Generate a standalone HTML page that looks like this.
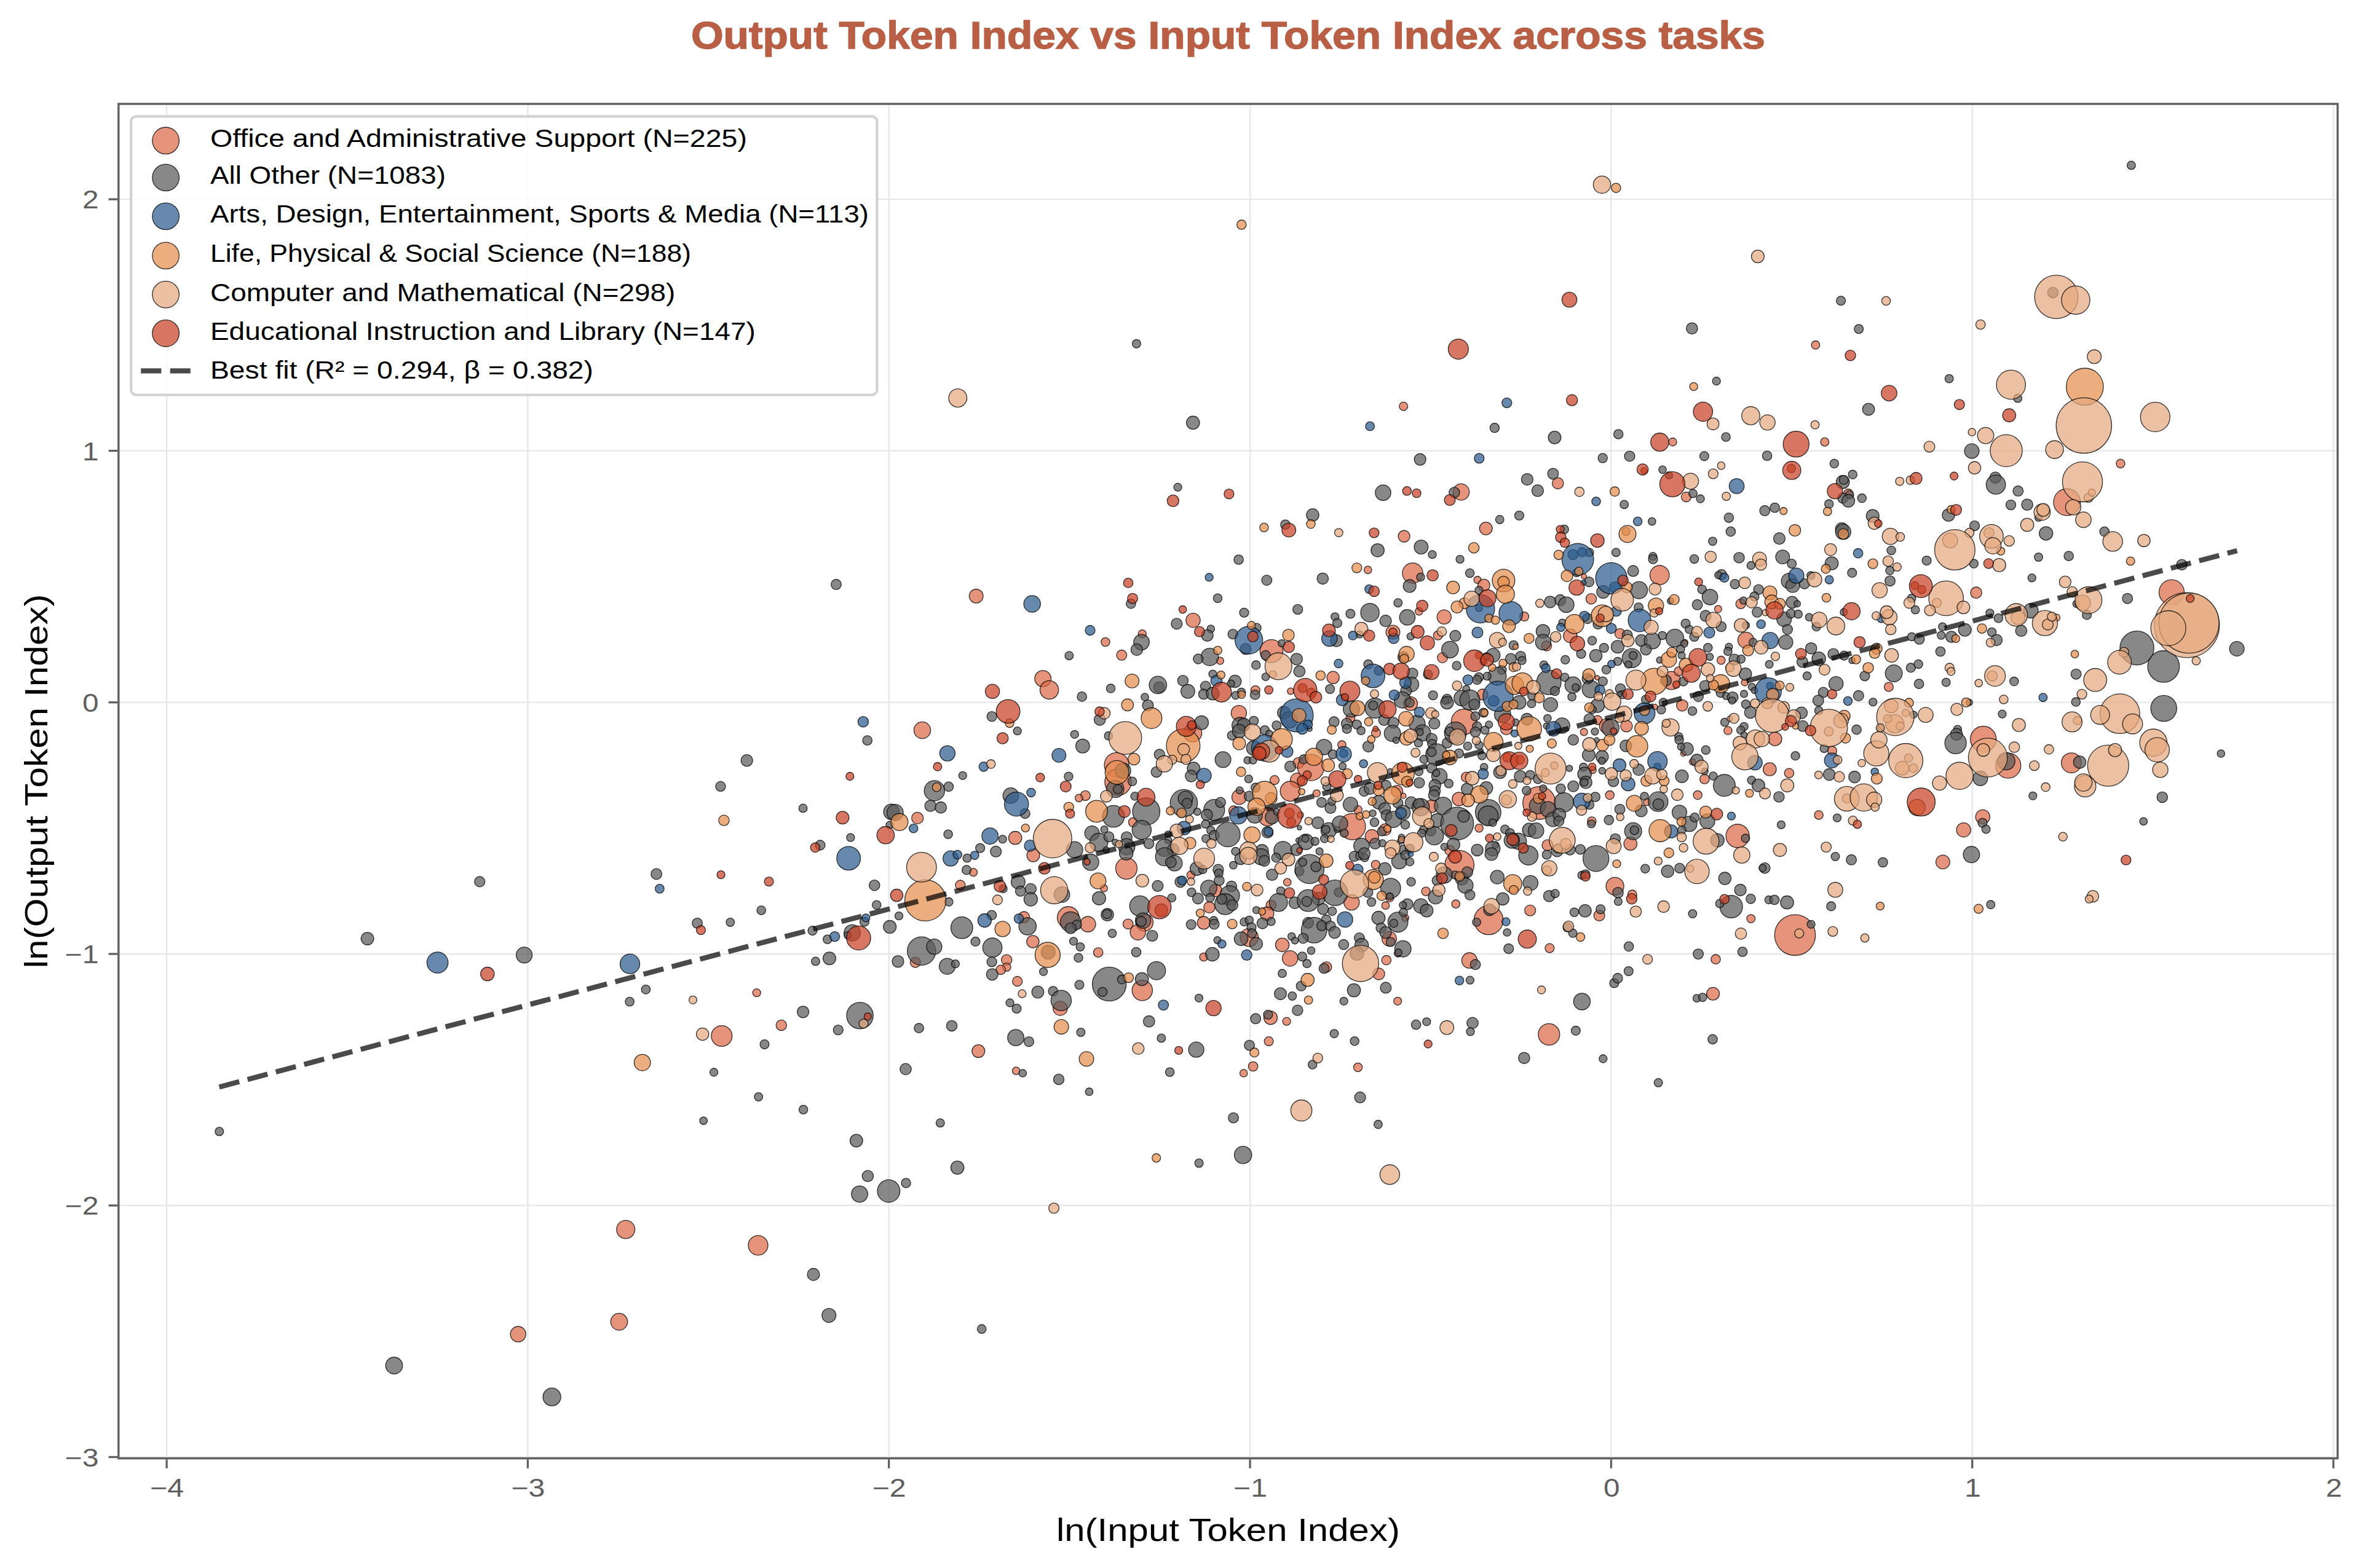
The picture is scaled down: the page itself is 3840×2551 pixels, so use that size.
<!DOCTYPE html>
<html><head><meta charset="utf-8"><title>Output Token Index vs Input Token Index across tasks</title>
<style>html,body{margin:0;padding:0;background:#fff}svg{display:block}text{font-family:"Liberation Sans",sans-serif}.p circle{stroke:#000;stroke-width:1.3;stroke-opacity:.78;fill-opacity:.72}
.o{fill:#db6a48}
.g{fill:#5a5a5a}
.b{fill:#2c5b8d}
.l{fill:#e58e4d}
.c{fill:#e5a97f}
.e{fill:#c74125}
.tk{font-size:41.7px;fill:#5f5f5f}.lg{font-size:40.5px;fill:#000}.gr line{stroke:#e7e7e7;stroke-width:2.3}.tc line{stroke:#5f5f5f;stroke-width:3.3}</style></head><body>
<svg width="3840" height="2551" viewBox="0 0 3840 2551">
<rect width="3840" height="2551" fill="#fff"/>
<g class="gr">
<line x1="271.1" y1="169.0" x2="271.1" y2="2372.6"/>
<line x1="858.4" y1="169.0" x2="858.4" y2="2372.6"/>
<line x1="1445.7" y1="169.0" x2="1445.7" y2="2372.6"/>
<line x1="2033.1" y1="169.0" x2="2033.1" y2="2372.6"/>
<line x1="2620.4" y1="169.0" x2="2620.4" y2="2372.6"/>
<line x1="3207.7" y1="169.0" x2="3207.7" y2="2372.6"/>
<line x1="3795.1" y1="169.0" x2="3795.1" y2="2372.6"/>
<line x1="192.8" y1="2370.5" x2="3802.0" y2="2370.5"/>
<line x1="192.8" y1="1961.2" x2="3802.0" y2="1961.2"/>
<line x1="192.8" y1="1552.0" x2="3802.0" y2="1552.0"/>
<line x1="192.8" y1="1142.7" x2="3802.0" y2="1142.7"/>
<line x1="192.8" y1="733.4" x2="3802.0" y2="733.4"/>
<line x1="192.8" y1="324.2" x2="3802.0" y2="324.2"/>
</g>
<g class="p">
<circle class="o" cx="842.7" cy="2170.6" r="12.6"/>
<circle class="o" cx="1017.7" cy="2000.2" r="14.9"/>
<circle class="o" cx="1007.0" cy="2150.4" r="13.7"/>
<circle class="o" cx="1233.0" cy="2026.1" r="16.0"/>
<circle class="o" cx="1230.7" cy="1615.2" r="6.5"/>
<circle class="o" cx="1270.8" cy="1668.0" r="8.6"/>
<circle class="o" cx="1173.8" cy="1685.5" r="16.9"/>
<circle class="o" cx="1591.3" cy="1710.1" r="10.4"/>
<circle class="o" cx="1652.6" cy="1742.1" r="6.2"/>
<circle class="o" cx="1654.7" cy="1596.5" r="8.0"/>
<circle class="o" cx="1724.4" cy="1640.4" r="11.6"/>
<circle class="o" cx="1857.8" cy="1611.3" r="16.6"/>
<circle class="o" cx="2063.6" cy="1694.1" r="7.4"/>
<circle class="o" cx="2038.1" cy="1735.0" r="7.7"/>
<circle class="o" cx="2022.7" cy="1746.0" r="6.2"/>
<circle class="o" cx="2066.5" cy="1655.8" r="11.0"/>
<circle class="o" cx="2092.6" cy="1661.7" r="6.5"/>
<circle class="o" cx="2273.2" cy="1628.8" r="6.5"/>
<circle class="o" cx="2208.6" cy="1736.5" r="7.1"/>
<circle class="o" cx="2786.1" cy="1616.7" r="10.4"/>
<circle class="o" cx="2519.3" cy="1682.8" r="17.5"/>
<circle class="o" cx="1500.0" cy="1188.0" r="13.6"/>
<circle class="o" cx="1492.2" cy="1330.9" r="9.5"/>
<circle class="o" cx="1561.9" cy="1440.0" r="8.0"/>
<circle class="o" cx="1583.0" cy="1419.2" r="6.5"/>
<circle class="o" cx="1651.2" cy="1363.2" r="10.7"/>
<circle class="o" cx="1765.3" cy="1294.4" r="8.0"/>
<circle class="o" cx="1754.9" cy="1298.3" r="6.2"/>
<circle class="o" cx="1680.5" cy="1391.6" r="10.4"/>
<circle class="o" cx="1665.4" cy="1492.2" r="9.2"/>
<circle class="o" cx="1737.4" cy="1492.8" r="17.8"/>
<circle class="o" cx="1679.9" cy="1531.9" r="10.1"/>
<circle class="o" cx="1488.7" cy="1565.7" r="8.3"/>
<circle class="o" cx="1637.2" cy="1561.8" r="8.6"/>
<circle class="o" cx="1637.2" cy="1573.4" r="6.8"/>
<circle class="o" cx="1627.7" cy="1577.8" r="7.7"/>
<circle class="o" cx="1587.7" cy="969.8" r="11.3"/>
<circle class="o" cx="1696.2" cy="1104.1" r="13.3"/>
<circle class="o" cx="1706.6" cy="1122.4" r="15.1"/>
<circle class="o" cx="1797.9" cy="1044.5" r="7.1"/>
<circle class="o" cx="1857.8" cy="1031.1" r="6.5"/>
<circle class="o" cx="1824.3" cy="1065.8" r="8.3"/>
<circle class="o" cx="1940.5" cy="1009.2" r="11.6"/>
<circle class="o" cx="1984.4" cy="1075.0" r="5.9"/>
<circle class="o" cx="2014.9" cy="1160.1" r="12.5"/>
<circle class="o" cx="2068.0" cy="1059.3" r="18.7"/>
<circle class="o" cx="2041.9" cy="1123.0" r="7.4"/>
<circle class="o" cx="2099.1" cy="1124.5" r="5.3"/>
<circle class="o" cx="2224.8" cy="927.1" r="6.2"/>
<circle class="o" cx="2265.5" cy="1028.5" r="11.3"/>
<circle class="o" cx="2168.2" cy="1102.3" r="10.1"/>
<circle class="o" cx="2196.4" cy="1168.4" r="7.4"/>
<circle class="o" cx="2376.4" cy="800.5" r="13.3"/>
<circle class="o" cx="2283.6" cy="872.5" r="9.5"/>
<circle class="o" cx="2297.5" cy="932.4" r="16.6"/>
<circle class="o" cx="2307.9" cy="994.7" r="6.2"/>
<circle class="o" cx="2348.8" cy="1003.8" r="11.6"/>
<circle class="o" cx="2338.7" cy="1033.8" r="7.4"/>
<circle class="o" cx="2346.1" cy="1070.0" r="8.3"/>
<circle class="o" cx="2294.2" cy="1144.7" r="11.3"/>
<circle class="o" cx="2381.1" cy="1174.3" r="20.8"/>
<circle class="o" cx="2416.7" cy="859.8" r="10.4"/>
<circle class="o" cx="2403.0" cy="943.4" r="5.9"/>
<circle class="o" cx="2413.4" cy="952.0" r="9.8"/>
<circle class="o" cx="2411.3" cy="1129.9" r="8.9"/>
<circle class="o" cx="2282.7" cy="661.0" r="6.9"/>
<circle class="o" cx="2952.9" cy="561.3" r="6.8"/>
<circle class="o" cx="2720.6" cy="719.0" r="6.5"/>
<circle class="o" cx="2967.8" cy="719.0" r="6.8"/>
<circle class="o" cx="2742.5" cy="808.5" r="8.0"/>
<circle class="o" cx="3006.1" cy="802.9" r="7.4"/>
<circle class="o" cx="2533.8" cy="786.3" r="9.2"/>
<circle class="o" cx="2699.2" cy="935.7" r="15.7"/>
<circle class="o" cx="2576.2" cy="937.8" r="4.4"/>
<circle class="o" cx="2588.0" cy="974.3" r="8.6"/>
<circle class="o" cx="2831.2" cy="982.3" r="8.0"/>
<circle class="o" cx="3448.9" cy="754.3" r="7.1"/>
<circle class="o" cx="3361.8" cy="816.9" r="21.9"/>
<circle class="o" cx="3532.0" cy="963.6" r="20.5"/>
<circle class="o" cx="3214.1" cy="964.2" r="9.2"/>
<circle class="o" cx="3368.9" cy="1241.1" r="16.3"/>
<circle class="o" cx="3225.7" cy="1202.6" r="21.1"/>
<circle class="o" cx="3266.3" cy="1245.6" r="20.5"/>
<circle class="o" cx="3224.8" cy="1328.9" r="11.6"/>
<circle class="o" cx="3193.7" cy="1350.2" r="11.6"/>
<circle class="o" cx="3159.9" cy="1402.4" r="11.3"/>
<circle class="o" cx="2503.5" cy="1306.3" r="26.7"/>
<circle class="o" cx="2618.3" cy="1293.6" r="7.1"/>
<circle class="o" cx="2678.5" cy="1304.8" r="5.9"/>
<circle class="o" cx="2761.2" cy="1293.6" r="7.1"/>
<circle class="o" cx="2588.9" cy="1336.0" r="7.1"/>
<circle class="o" cx="2516.9" cy="1375.1" r="8.9"/>
<circle class="o" cx="2651.8" cy="1372.7" r="10.7"/>
<circle class="o" cx="2826.1" cy="1360.0" r="19.0"/>
<circle class="o" cx="2958.1" cy="1325.9" r="7.1"/>
<circle class="o" cx="2626.6" cy="1441.8" r="14.5"/>
<circle class="o" cx="2654.8" cy="1455.4" r="7.4"/>
<circle class="o" cx="2488.7" cy="1481.2" r="8.9"/>
<circle class="o" cx="2601.1" cy="1489.5" r="8.9"/>
<circle class="o" cx="2847.8" cy="1494.6" r="6.8"/>
<circle class="o" cx="2919.5" cy="1521.3" r="33.2"/>
<circle class="o" cx="2520.4" cy="1542.6" r="7.4"/>
<circle class="o" cx="2790.5" cy="1560.7" r="7.7"/>
<circle class="o" cx="1816.1" cy="1244.3" r="20.0"/>
<circle class="o" cx="1818.4" cy="1272.5" r="21.5"/>
<circle class="o" cx="1842.8" cy="1337.7" r="7.4"/>
<circle class="o" cx="1939.9" cy="1192.4" r="14.8"/>
<circle class="o" cx="2111.9" cy="1241.3" r="8.9"/>
<circle class="o" cx="2073.0" cy="1269.1" r="7.4"/>
<circle class="o" cx="2110.4" cy="1269.5" r="11.9"/>
<circle class="o" cx="2015.5" cy="1296.9" r="11.9"/>
<circle class="o" cx="2098.5" cy="1287.3" r="16.3"/>
<circle class="o" cx="2061.5" cy="1328.8" r="14.8"/>
<circle class="o" cx="2006.6" cy="1319.2" r="8.2"/>
<circle class="o" cx="2182.5" cy="1211.7" r="6.7"/>
<circle class="o" cx="2132.0" cy="1248.7" r="21.5"/>
<circle class="o" cx="2141.4" cy="1290.7" r="5.9"/>
<circle class="o" cx="2115.0" cy="1325.8" r="5.2"/>
<circle class="o" cx="2199.5" cy="1344.8" r="21.5"/>
<circle class="o" cx="2238.0" cy="1192.4" r="7.4"/>
<circle class="o" cx="2272.1" cy="1287.3" r="9.6"/>
<circle class="o" cx="2282.5" cy="1294.7" r="4.4"/>
<circle class="o" cx="2208.7" cy="1317.4" r="6.7"/>
<circle class="o" cx="2252.9" cy="1349.8" r="9.6"/>
<circle class="o" cx="2231.4" cy="1360.7" r="11.1"/>
<circle class="o" cx="2328.5" cy="1311.7" r="10.4"/>
<circle class="o" cx="2358.1" cy="1383.6" r="8.2"/>
<circle class="o" cx="2384.8" cy="1264.3" r="8.2"/>
<circle class="o" cx="2372.9" cy="1299.9" r="11.1"/>
<circle class="o" cx="2405.6" cy="1347.3" r="6.7"/>
<circle class="o" cx="2450.0" cy="1185.7" r="9.6"/>
<circle class="o" cx="1832.0" cy="1412.8" r="17.5"/>
<circle class="o" cx="1937.0" cy="1423.6" r="6.7"/>
<circle class="o" cx="2093.7" cy="1435.4" r="6.2"/>
<circle class="o" cx="1795.4" cy="1445.1" r="5.9"/>
<circle class="o" cx="1769.4" cy="1503.6" r="12.6"/>
<circle class="o" cx="1834.7" cy="1503.3" r="8.2"/>
<circle class="o" cx="1861.4" cy="1500.7" r="14.1"/>
<circle class="o" cx="1850.7" cy="1516.7" r="12.6"/>
<circle class="o" cx="1977.0" cy="1448.8" r="10.4"/>
<circle class="o" cx="1966.9" cy="1476.2" r="9.2"/>
<circle class="o" cx="1957.7" cy="1501.4" r="10.4"/>
<circle class="o" cx="2067.4" cy="1472.5" r="8.2"/>
<circle class="o" cx="2060.7" cy="1486.6" r="11.1"/>
<circle class="o" cx="2031.8" cy="1525.1" r="14.8"/>
<circle class="o" cx="2085.6" cy="1537.3" r="11.1"/>
<circle class="o" cx="1786.2" cy="1549.6" r="7.7"/>
<circle class="o" cx="1957.7" cy="1557.0" r="6.7"/>
<circle class="o" cx="2098.2" cy="1559.2" r="12.6"/>
<circle class="o" cx="2237.4" cy="1406.8" r="7.1"/>
<circle class="o" cx="2198.3" cy="1468.1" r="12.6"/>
<circle class="o" cx="2260.3" cy="1460.6" r="6.7"/>
<circle class="o" cx="2253.5" cy="1473.2" r="6.2"/>
<circle class="o" cx="2285.5" cy="1493.3" r="5.9"/>
<circle class="o" cx="2259.5" cy="1527.3" r="11.9"/>
<circle class="o" cx="2273.6" cy="1551.1" r="5.9"/>
<circle class="o" cx="2157.2" cy="1573.3" r="8.6"/>
<circle class="o" cx="2254.8" cy="1562.2" r="7.7"/>
<circle class="o" cx="2373.7" cy="1407.3" r="23.7"/>
<circle class="o" cx="2319.1" cy="1450.3" r="7.1"/>
<circle class="o" cx="2367.8" cy="1470.7" r="6.7"/>
<circle class="o" cx="2421.1" cy="1497.0" r="23.7"/>
<circle class="o" cx="2390.0" cy="1562.6" r="12.6"/>
<circle class="o" cx="2242.5" cy="1584.4" r="9.6"/>
<circle class="o" cx="2479.1" cy="1003.0" r="7.4"/>
<circle class="o" cx="2515.4" cy="1050.8" r="8.2"/>
<circle class="o" cx="2553.9" cy="1034.5" r="11.1"/>
<circle class="o" cx="2597.7" cy="1102.7" r="3.7"/>
<circle class="o" cx="2598.4" cy="1171.6" r="7.4"/>
<circle class="o" cx="2576.2" cy="1190.9" r="5.9"/>
<circle class="o" cx="2613.2" cy="1181.2" r="11.9"/>
<circle class="o" cx="2645.4" cy="1181.2" r="9.6"/>
<circle class="o" cx="2634.7" cy="1030.8" r="8.2"/>
<circle class="o" cx="2740.7" cy="1044.8" r="4.4"/>
<circle class="o" cx="2718.5" cy="1107.1" r="14.8"/>
<circle class="o" cx="2730.4" cy="1092.3" r="7.4"/>
<circle class="o" cx="2799.3" cy="1074.2" r="6.7"/>
<circle class="o" cx="2736.0" cy="1147.6" r="9.3"/>
<circle class="o" cx="2691.8" cy="1150.1" r="4.4"/>
<circle class="o" cx="2810.4" cy="1188.6" r="6.7"/>
<circle class="o" cx="2794.4" cy="990.7" r="5.9"/>
<circle class="o" cx="2839.5" cy="1041.4" r="13.0"/>
<circle class="o" cx="3071.9" cy="1117.5" r="7.4"/>
<circle class="o" cx="2837.7" cy="1110.4" r="5.6"/>
<circle class="o" cx="2590.3" cy="1252.6" r="5.9"/>
<circle class="o" cx="2737.8" cy="1226.0" r="4.4"/>
<circle class="o" cx="2752.6" cy="1239.3" r="5.2"/>
<circle class="o" cx="2772.3" cy="1267.5" r="7.7"/>
<circle class="o" cx="2886.9" cy="1202.2" r="11.1"/>
<circle class="o" cx="2878.3" cy="1251.5" r="10.7"/>
<circle class="o" cx="2909.9" cy="1257.8" r="7.7"/>
<circle class="o" cx="2980.0" cy="1221.5" r="7.4"/>
<circle class="g" cx="1804.2" cy="1601.0" r="27.6"/>
<circle class="g" cx="1885.1" cy="1118.0" r="8.9"/>
<circle class="g" cx="2177.3" cy="1451.7" r="7.4"/>
<circle class="g" cx="641.0" cy="2221.7" r="13.7"/>
<circle class="g" cx="897.6" cy="2272.7" r="14.5"/>
<circle class="g" cx="1392.8" cy="1855.7" r="10.3"/>
<circle class="g" cx="1411.4" cy="1913.3" r="9.1"/>
<circle class="g" cx="1398.1" cy="1942.6" r="13.3"/>
<circle class="g" cx="1445.4" cy="1937.7" r="18.3"/>
<circle class="g" cx="1473.6" cy="1924.7" r="7.6"/>
<circle class="g" cx="1557.1" cy="1899.6" r="10.7"/>
<circle class="g" cx="1950.1" cy="1892.3" r="6.9"/>
<circle class="g" cx="1323.0" cy="2073.4" r="9.9"/>
<circle class="g" cx="1348.2" cy="2140.1" r="11.4"/>
<circle class="g" cx="1596.7" cy="2162.2" r="7.2"/>
<circle class="g" cx="2021.7" cy="1879.0" r="14.1"/>
<circle class="g" cx="780.2" cy="1434.4" r="8.4"/>
<circle class="g" cx="1067.6" cy="1421.9" r="8.8"/>
<circle class="g" cx="597.6" cy="1527.1" r="10.3"/>
<circle class="g" cx="852.6" cy="1553.8" r="13.0"/>
<circle class="g" cx="1050.4" cy="1609.8" r="7.2"/>
<circle class="g" cx="1024.1" cy="1629.6" r="7.2"/>
<circle class="g" cx="356.7" cy="1840.8" r="6.9"/>
<circle class="g" cx="1306.1" cy="1646.3" r="9.5"/>
<circle class="g" cx="1398.6" cy="1652.3" r="21.6"/>
<circle class="g" cx="1363.3" cy="1675.7" r="8.0"/>
<circle class="g" cx="1243.5" cy="1699.1" r="7.4"/>
<circle class="g" cx="1161.1" cy="1744.5" r="6.5"/>
<circle class="g" cx="1233.7" cy="1784.5" r="6.8"/>
<circle class="g" cx="1306.6" cy="1805.2" r="7.1"/>
<circle class="g" cx="1144.2" cy="1823.3" r="6.2"/>
<circle class="g" cx="1494.6" cy="1672.7" r="7.7"/>
<circle class="g" cx="1548.0" cy="1668.9" r="8.6"/>
<circle class="g" cx="1473.0" cy="1739.4" r="9.2"/>
<circle class="g" cx="1529.3" cy="1826.9" r="6.8"/>
<circle class="g" cx="1652.1" cy="1688.1" r="13.3"/>
<circle class="g" cx="1673.4" cy="1694.7" r="8.0"/>
<circle class="g" cx="1663.3" cy="1746.0" r="6.2"/>
<circle class="g" cx="1722.0" cy="1756.0" r="8.6"/>
<circle class="g" cx="1771.5" cy="1776.2" r="6.2"/>
<circle class="g" cx="1757.9" cy="1679.5" r="6.8"/>
<circle class="g" cx="1687.9" cy="1614.0" r="9.8"/>
<circle class="g" cx="1712.8" cy="1612.5" r="7.7"/>
<circle class="g" cx="1725.9" cy="1627.7" r="16.6"/>
<circle class="g" cx="1642.6" cy="1631.5" r="6.5"/>
<circle class="g" cx="1653.5" cy="1641.0" r="7.4"/>
<circle class="g" cx="1755.5" cy="1602.2" r="7.4"/>
<circle class="g" cx="1793.2" cy="1613.7" r="7.4"/>
<circle class="g" cx="1824.6" cy="1593.6" r="7.1"/>
<circle class="g" cx="1857.2" cy="1593.0" r="10.7"/>
<circle class="g" cx="1950.0" cy="1623.8" r="6.5"/>
<circle class="g" cx="1868.8" cy="1661.7" r="9.2"/>
<circle class="g" cx="1888.9" cy="1689.0" r="6.8"/>
<circle class="g" cx="1945.6" cy="1707.7" r="12.5"/>
<circle class="g" cx="1902.6" cy="1744.2" r="7.1"/>
<circle class="g" cx="2032.1" cy="1700.6" r="8.3"/>
<circle class="g" cx="2042.2" cy="1657.3" r="8.3"/>
<circle class="g" cx="2062.4" cy="1650.8" r="7.4"/>
<circle class="g" cx="2110.4" cy="1643.7" r="8.6"/>
<circle class="g" cx="2082.5" cy="1616.7" r="9.8"/>
<circle class="g" cx="2101.8" cy="1620.5" r="6.8"/>
<circle class="g" cx="2116.3" cy="1604.2" r="8.0"/>
<circle class="g" cx="2185.7" cy="1628.8" r="6.5"/>
<circle class="g" cx="2202.0" cy="1611.1" r="10.7"/>
<circle class="g" cx="2253.9" cy="1606.9" r="8.9"/>
<circle class="g" cx="2390.9" cy="1594.7" r="6.5"/>
<circle class="g" cx="2170.0" cy="1681.6" r="6.8"/>
<circle class="g" cx="2203.2" cy="1693.8" r="7.1"/>
<circle class="g" cx="2134.7" cy="1732.0" r="7.1"/>
<circle class="g" cx="2303.1" cy="1667.1" r="7.7"/>
<circle class="g" cx="2320.3" cy="1662.3" r="6.5"/>
<circle class="g" cx="2395.0" cy="1664.4" r="9.2"/>
<circle class="g" cx="2391.5" cy="1678.4" r="6.5"/>
<circle class="g" cx="2478.9" cy="1721.3" r="9.2"/>
<circle class="g" cx="2212.1" cy="1785.4" r="8.9"/>
<circle class="g" cx="2241.5" cy="1829.3" r="6.8"/>
<circle class="g" cx="2006.1" cy="1818.6" r="8.3"/>
<circle class="g" cx="2572.9" cy="1629.4" r="13.6"/>
<circle class="g" cx="2625.4" cy="1599.5" r="7.4"/>
<circle class="g" cx="2631.0" cy="1591.5" r="8.0"/>
<circle class="g" cx="2759.7" cy="1624.1" r="6.2"/>
<circle class="g" cx="2769.2" cy="1622.6" r="6.8"/>
<circle class="g" cx="2562.9" cy="1676.9" r="7.4"/>
<circle class="g" cx="2785.5" cy="1690.8" r="7.7"/>
<circle class="g" cx="2607.3" cy="1722.5" r="6.5"/>
<circle class="g" cx="2697.2" cy="1761.4" r="6.8"/>
<circle class="g" cx="1214.7" cy="1237.2" r="9.5"/>
<circle class="g" cx="1172.0" cy="1279.3" r="8.0"/>
<circle class="g" cx="1306.1" cy="1314.9" r="6.8"/>
<circle class="g" cx="1410.7" cy="1204.6" r="7.7"/>
<circle class="g" cx="1383.4" cy="1362.6" r="6.5"/>
<circle class="g" cx="1333.9" cy="1375.0" r="8.0"/>
<circle class="g" cx="1422.3" cy="1440.3" r="8.6"/>
<circle class="g" cx="1238.2" cy="1480.9" r="7.1"/>
<circle class="g" cx="1134.1" cy="1501.9" r="8.3"/>
<circle class="g" cx="1187.8" cy="1500.5" r="6.8"/>
<circle class="g" cx="1425.8" cy="1472.3" r="7.1"/>
<circle class="g" cx="1406.0" cy="1499.6" r="7.4"/>
<circle class="g" cx="1321.5" cy="1514.1" r="7.4"/>
<circle class="g" cx="1345.8" cy="1528.3" r="7.1"/>
<circle class="g" cx="1386.1" cy="1517.7" r="13.3"/>
<circle class="g" cx="1378.7" cy="1521.5" r="5.9"/>
<circle class="g" cx="1326.5" cy="1563.9" r="6.8"/>
<circle class="g" cx="1349.0" cy="1559.2" r="10.4"/>
<circle class="g" cx="1447.2" cy="1507.9" r="10.4"/>
<circle class="g" cx="1462.0" cy="1490.1" r="6.5"/>
<circle class="g" cx="1460.5" cy="1564.2" r="9.5"/>
<circle class="g" cx="1565.8" cy="1261.8" r="6.5"/>
<circle class="g" cx="1654.7" cy="1189.2" r="6.5"/>
<circle class="g" cx="1519.8" cy="1286.4" r="16.6"/>
<circle class="g" cx="1542.9" cy="1279.9" r="7.7"/>
<circle class="g" cx="1513.3" cy="1311.0" r="9.2"/>
<circle class="g" cx="1530.2" cy="1313.7" r="9.2"/>
<circle class="g" cx="1449.9" cy="1320.8" r="12.7"/>
<circle class="g" cx="1455.8" cy="1322.0" r="13.3"/>
<circle class="g" cx="1446.9" cy="1342.1" r="5.9"/>
<circle class="g" cx="1542.1" cy="1357.3" r="7.1"/>
<circle class="g" cx="1543.2" cy="1467.3" r="6.8"/>
<circle class="g" cx="1572.9" cy="1396.1" r="6.8"/>
<circle class="g" cx="1594.2" cy="1379.8" r="7.4"/>
<circle class="g" cx="1572.0" cy="1415.4" r="7.4"/>
<circle class="g" cx="1630.7" cy="1365.3" r="6.5"/>
<circle class="g" cx="1619.7" cy="1385.4" r="8.9"/>
<circle class="g" cx="1644.0" cy="1294.4" r="12.7"/>
<circle class="g" cx="1667.2" cy="1323.5" r="8.0"/>
<circle class="g" cx="1738.0" cy="1263.3" r="7.1"/>
<circle class="g" cx="1760.9" cy="1213.8" r="11.3"/>
<circle class="g" cx="1747.8" cy="1194.8" r="6.5"/>
<circle class="g" cx="1747.8" cy="1382.5" r="13.3"/>
<circle class="g" cx="1655.9" cy="1434.9" r="11.3"/>
<circle class="g" cx="1631.6" cy="1445.9" r="6.5"/>
<circle class="g" cx="1659.8" cy="1449.8" r="8.3"/>
<circle class="g" cx="1676.4" cy="1446.2" r="8.9"/>
<circle class="g" cx="1676.4" cy="1463.1" r="11.0"/>
<circle class="g" cx="1727.1" cy="1455.4" r="12.7"/>
<circle class="g" cx="1612.9" cy="1488.9" r="7.7"/>
<circle class="g" cx="1564.3" cy="1509.4" r="17.8"/>
<circle class="g" cx="1671.3" cy="1507.0" r="14.2"/>
<circle class="g" cx="1741.3" cy="1499.9" r="16.6"/>
<circle class="g" cx="1751.4" cy="1504.6" r="7.7"/>
<circle class="g" cx="1741.3" cy="1510.2" r="8.9"/>
<circle class="g" cx="1586.5" cy="1531.9" r="7.4"/>
<circle class="g" cx="1614.1" cy="1541.7" r="15.7"/>
<circle class="g" cx="1746.0" cy="1531.3" r="6.5"/>
<circle class="g" cx="1757.0" cy="1540.5" r="6.8"/>
<circle class="g" cx="1704.8" cy="1549.1" r="11.3"/>
<circle class="g" cx="1754.0" cy="1558.3" r="7.1"/>
<circle class="g" cx="1498.8" cy="1547.3" r="23.1"/>
<circle class="g" cx="1519.5" cy="1540.2" r="12.5"/>
<circle class="g" cx="1540.6" cy="1572.2" r="13.0"/>
<circle class="g" cx="1553.9" cy="1568.1" r="6.5"/>
<circle class="g" cx="1613.2" cy="1564.8" r="8.0"/>
<circle class="g" cx="1613.8" cy="1585.3" r="9.5"/>
<circle class="g" cx="1697.1" cy="1580.8" r="6.5"/>
<circle class="g" cx="1360.0" cy="950.8" r="8.3"/>
<circle class="g" cx="1738.9" cy="1066.7" r="6.8"/>
<circle class="g" cx="1759.7" cy="1133.4" r="7.7"/>
<circle class="g" cx="1613.2" cy="1165.7" r="8.0"/>
<circle class="g" cx="1915.6" cy="792.7" r="6.5"/>
<circle class="g" cx="1839.4" cy="982.2" r="7.7"/>
<circle class="g" cx="1856.6" cy="1044.8" r="12.7"/>
<circle class="g" cx="1848.9" cy="1056.9" r="9.5"/>
<circle class="g" cx="1913.8" cy="1014.8" r="8.9"/>
<circle class="g" cx="1806.5" cy="1120.1" r="7.1"/>
<circle class="g" cx="1883.3" cy="1114.4" r="14.2"/>
<circle class="g" cx="1862.0" cy="1134.0" r="6.2"/>
<circle class="g" cx="1867.0" cy="1147.6" r="8.9"/>
<circle class="g" cx="1788.7" cy="1170.8" r="9.2"/>
<circle class="g" cx="2014.6" cy="910.5" r="7.7"/>
<circle class="g" cx="1980.5" cy="973.3" r="7.1"/>
<circle class="g" cx="2023.5" cy="996.7" r="7.4"/>
<circle class="g" cx="1969.3" cy="1023.1" r="6.2"/>
<circle class="g" cx="1963.6" cy="1033.8" r="9.5"/>
<circle class="g" cx="2005.2" cy="1031.7" r="8.0"/>
<circle class="g" cx="1967.5" cy="1068.8" r="14.2"/>
<circle class="g" cx="1948.8" cy="1072.0" r="8.0"/>
<circle class="g" cx="1923.9" cy="1107.3" r="8.6"/>
<circle class="g" cx="1931.9" cy="1124.8" r="11.3"/>
<circle class="g" cx="1972.5" cy="1096.6" r="6.5"/>
<circle class="g" cx="1960.7" cy="1116.5" r="8.3"/>
<circle class="g" cx="1957.7" cy="1129.3" r="8.3"/>
<circle class="g" cx="1972.5" cy="1128.4" r="10.4"/>
<circle class="g" cx="2008.7" cy="1108.5" r="10.1"/>
<circle class="g" cx="2002.2" cy="1112.1" r="5.9"/>
<circle class="g" cx="2019.1" cy="1126.3" r="6.8"/>
<circle class="g" cx="2009.6" cy="1131.3" r="6.5"/>
<circle class="g" cx="1954.2" cy="1175.8" r="11.3"/>
<circle class="g" cx="2017.0" cy="1180.3" r="13.3"/>
<circle class="g" cx="2022.9" cy="1178.8" r="10.4"/>
<circle class="g" cx="2090.5" cy="853.5" r="7.7"/>
<circle class="g" cx="2135.0" cy="837.8" r="10.1"/>
<circle class="g" cx="2060.3" cy="944.0" r="8.3"/>
<circle class="g" cx="2151.3" cy="941.3" r="9.2"/>
<circle class="g" cx="2110.7" cy="991.4" r="8.0"/>
<circle class="g" cx="2043.7" cy="1021.6" r="7.4"/>
<circle class="g" cx="2025.9" cy="1055.7" r="8.9"/>
<circle class="g" cx="2084.6" cy="1046.5" r="5.9"/>
<circle class="g" cx="2058.5" cy="1066.1" r="7.7"/>
<circle class="g" cx="2108.9" cy="1072.3" r="9.5"/>
<circle class="g" cx="2042.8" cy="1082.1" r="7.1"/>
<circle class="g" cx="2113.4" cy="1092.2" r="9.2"/>
<circle class="g" cx="2058.5" cy="1101.1" r="6.2"/>
<circle class="g" cx="2041.3" cy="1130.4" r="7.7"/>
<circle class="g" cx="2088.2" cy="1159.5" r="10.4"/>
<circle class="g" cx="2097.1" cy="1171.4" r="13.3"/>
<circle class="g" cx="2039.2" cy="1172.8" r="7.4"/>
<circle class="g" cx="2076.3" cy="1180.3" r="7.4"/>
<circle class="g" cx="2249.5" cy="801.6" r="12.7"/>
<circle class="g" cx="2240.6" cy="895.3" r="10.7"/>
<circle class="g" cx="2171.2" cy="1003.3" r="6.5"/>
<circle class="g" cx="2175.0" cy="1013.6" r="7.4"/>
<circle class="g" cx="2196.4" cy="998.5" r="7.4"/>
<circle class="g" cx="2228.1" cy="996.7" r="15.1"/>
<circle class="g" cx="2253.6" cy="1010.1" r="9.5"/>
<circle class="g" cx="2173.6" cy="1042.4" r="9.8"/>
<circle class="g" cx="2211.2" cy="1032.0" r="5.9"/>
<circle class="g" cx="2163.2" cy="1121.0" r="7.4"/>
<circle class="g" cx="2225.4" cy="1080.9" r="7.4"/>
<circle class="g" cx="2242.3" cy="1091.3" r="7.4"/>
<circle class="g" cx="2197.9" cy="1153.6" r="13.3"/>
<circle class="g" cx="2236.4" cy="1152.1" r="16.3"/>
<circle class="g" cx="2233.4" cy="1147.6" r="7.4"/>
<circle class="g" cx="2169.7" cy="1174.3" r="8.3"/>
<circle class="g" cx="2190.5" cy="1177.3" r="8.9"/>
<circle class="g" cx="2206.8" cy="1178.8" r="7.4"/>
<circle class="g" cx="2251.2" cy="1171.4" r="8.9"/>
<circle class="g" cx="2266.1" cy="1175.8" r="8.9"/>
<circle class="g" cx="2365.4" cy="801.3" r="8.6"/>
<circle class="g" cx="2311.4" cy="890.0" r="11.3"/>
<circle class="g" cx="2329.5" cy="902.2" r="6.5"/>
<circle class="g" cx="2374.6" cy="909.9" r="6.5"/>
<circle class="g" cx="2310.5" cy="938.9" r="6.5"/>
<circle class="g" cx="2292.7" cy="953.4" r="10.4"/>
<circle class="g" cx="2273.8" cy="980.7" r="6.8"/>
<circle class="g" cx="2288.9" cy="1004.4" r="12.7"/>
<circle class="g" cx="2294.2" cy="1035.3" r="5.9"/>
<circle class="g" cx="2366.9" cy="1034.4" r="8.9"/>
<circle class="g" cx="2358.3" cy="1056.9" r="13.6"/>
<circle class="g" cx="2282.4" cy="1069.1" r="8.9"/>
<circle class="g" cx="2369.2" cy="1083.0" r="7.1"/>
<circle class="g" cx="2297.2" cy="1095.8" r="8.9"/>
<circle class="g" cx="2322.4" cy="1097.2" r="7.4"/>
<circle class="g" cx="2295.7" cy="1113.5" r="11.9"/>
<circle class="g" cx="2286.8" cy="1123.9" r="8.9"/>
<circle class="g" cx="2280.9" cy="1138.7" r="13.3"/>
<circle class="g" cx="2292.7" cy="1143.2" r="7.4"/>
<circle class="g" cx="2330.7" cy="1131.3" r="7.4"/>
<circle class="g" cx="2304.6" cy="1177.3" r="13.3"/>
<circle class="g" cx="2332.8" cy="1177.3" r="8.9"/>
<circle class="g" cx="2353.5" cy="1137.3" r="8.0"/>
<circle class="g" cx="2350.6" cy="1140.2" r="5.9"/>
<circle class="g" cx="2353.5" cy="1143.2" r="10.4"/>
<circle class="g" cx="2384.7" cy="1121.0" r="5.9"/>
<circle class="g" cx="2377.5" cy="1135.8" r="12.7"/>
<circle class="g" cx="2439.2" cy="845.2" r="6.8"/>
<circle class="g" cx="2390.6" cy="932.4" r="7.1"/>
<circle class="g" cx="2405.4" cy="960.3" r="6.5"/>
<circle class="g" cx="2405.4" cy="989.0" r="5.9"/>
<circle class="g" cx="2461.7" cy="1049.8" r="7.4"/>
<circle class="g" cx="2428.5" cy="1066.1" r="11.3"/>
<circle class="g" cx="2417.3" cy="1067.6" r="5.9"/>
<circle class="g" cx="2457.3" cy="1072.0" r="8.9"/>
<circle class="g" cx="2442.5" cy="1089.8" r="7.4"/>
<circle class="g" cx="2435.1" cy="1100.2" r="14.8"/>
<circle class="g" cx="2418.7" cy="1100.2" r="6.5"/>
<circle class="g" cx="2405.4" cy="1101.7" r="7.4"/>
<circle class="g" cx="2402.4" cy="1106.1" r="7.4"/>
<circle class="g" cx="2390.6" cy="1138.7" r="16.3"/>
<circle class="g" cx="2398.0" cy="1146.2" r="8.9"/>
<circle class="g" cx="2412.8" cy="1159.5" r="7.4"/>
<circle class="g" cx="2443.9" cy="1162.5" r="13.3"/>
<circle class="g" cx="2399.5" cy="1165.4" r="7.4"/>
<circle class="g" cx="2421.7" cy="1178.8" r="5.9"/>
<circle class="g" cx="2402.4" cy="1181.7" r="7.4"/>
<circle class="g" cx="1848.5" cy="559.2" r="6.9"/>
<circle class="g" cx="1940.3" cy="687.7" r="10.7"/>
<circle class="g" cx="2430.9" cy="696.1" r="7.6"/>
<circle class="g" cx="2528.5" cy="711.7" r="10.3"/>
<circle class="g" cx="2632.2" cy="706.4" r="7.6"/>
<circle class="g" cx="2309.7" cy="747.5" r="9.5"/>
<circle class="g" cx="2606.7" cy="745.3" r="7.6"/>
<circle class="g" cx="2650.5" cy="742.2" r="8.4"/>
<circle class="g" cx="2525.9" cy="770.8" r="8.8"/>
<circle class="g" cx="2483.9" cy="779.9" r="9.5"/>
<circle class="g" cx="2994.1" cy="489.2" r="7.4"/>
<circle class="g" cx="2751.9" cy="534.3" r="9.2"/>
<circle class="g" cx="3023.2" cy="535.2" r="7.4"/>
<circle class="g" cx="3338.9" cy="475.9" r="8.6"/>
<circle class="g" cx="3466.4" cy="268.9" r="6.8"/>
<circle class="g" cx="2791.7" cy="620.0" r="6.5"/>
<circle class="g" cx="2807.1" cy="711.0" r="7.1"/>
<circle class="g" cx="3039.0" cy="665.9" r="9.8"/>
<circle class="g" cx="2771.9" cy="742.1" r="7.4"/>
<circle class="g" cx="2874.1" cy="741.5" r="7.7"/>
<circle class="g" cx="2983.3" cy="754.3" r="7.1"/>
<circle class="g" cx="2704.0" cy="764.1" r="6.2"/>
<circle class="g" cx="2714.6" cy="773.3" r="5.9"/>
<circle class="g" cx="2753.5" cy="802.9" r="6.8"/>
<circle class="g" cx="2765.6" cy="811.5" r="6.5"/>
<circle class="g" cx="3013.2" cy="772.1" r="7.1"/>
<circle class="g" cx="2997.2" cy="784.2" r="10.7"/>
<circle class="g" cx="2998.7" cy="780.7" r="7.4"/>
<circle class="g" cx="3008.2" cy="805.0" r="6.8"/>
<circle class="g" cx="2997.2" cy="810.3" r="8.3"/>
<circle class="g" cx="3006.1" cy="814.8" r="10.4"/>
<circle class="g" cx="3028.3" cy="810.6" r="7.1"/>
<circle class="g" cx="2974.7" cy="820.1" r="7.1"/>
<circle class="g" cx="2500.9" cy="798.2" r="9.5"/>
<circle class="g" cx="2641.7" cy="820.7" r="6.8"/>
<circle class="g" cx="2470.9" cy="838.8" r="7.4"/>
<circle class="g" cx="2870.3" cy="830.8" r="8.3"/>
<circle class="g" cx="2886.6" cy="826.0" r="7.7"/>
<circle class="g" cx="2811.9" cy="842.3" r="7.7"/>
<circle class="g" cx="2686.8" cy="848.3" r="6.2"/>
<circle class="g" cx="2814.9" cy="864.9" r="7.7"/>
<circle class="g" cx="2894.0" cy="876.1" r="9.5"/>
<circle class="g" cx="2785.5" cy="880.6" r="6.8"/>
<circle class="g" cx="3045.8" cy="839.4" r="10.4"/>
<circle class="g" cx="2995.7" cy="860.7" r="10.4"/>
<circle class="g" cx="2997.8" cy="865.2" r="12.5"/>
<circle class="g" cx="2544.2" cy="861.3" r="7.1"/>
<circle class="g" cx="2585.1" cy="898.7" r="6.8"/>
<circle class="g" cx="2628.4" cy="898.7" r="6.8"/>
<circle class="g" cx="2755.6" cy="909.4" r="7.1"/>
<circle class="g" cx="2688.3" cy="905.2" r="6.5"/>
<circle class="g" cx="2688.5" cy="909.7" r="7.4"/>
<circle class="g" cx="2828.5" cy="907.3" r="8.6"/>
<circle class="g" cx="2899.3" cy="906.1" r="11.3"/>
<circle class="g" cx="3076.1" cy="895.4" r="7.1"/>
<circle class="g" cx="3133.6" cy="912.0" r="7.4"/>
<circle class="g" cx="2847.8" cy="920.0" r="6.5"/>
<circle class="g" cx="2914.2" cy="917.1" r="7.4"/>
<circle class="g" cx="2979.1" cy="916.5" r="10.7"/>
<circle class="g" cx="3073.7" cy="928.3" r="6.8"/>
<circle class="g" cx="3012.3" cy="931.9" r="7.4"/>
<circle class="g" cx="3074.0" cy="945.2" r="8.3"/>
<circle class="g" cx="2909.7" cy="945.2" r="12.5"/>
<circle class="g" cx="2915.7" cy="952.6" r="11.3"/>
<circle class="g" cx="2934.9" cy="949.7" r="8.3"/>
<circle class="g" cx="2945.3" cy="936.3" r="6.5"/>
<circle class="g" cx="2564.3" cy="931.9" r="6.5"/>
<circle class="g" cx="2656.2" cy="928.9" r="8.9"/>
<circle class="g" cx="2665.7" cy="960.1" r="13.9"/>
<circle class="g" cx="2607.3" cy="963.0" r="10.4"/>
<circle class="g" cx="2584.5" cy="946.7" r="8.0"/>
<circle class="g" cx="2521.3" cy="979.3" r="9.5"/>
<circle class="g" cx="2537.6" cy="976.4" r="8.9"/>
<circle class="g" cx="2547.4" cy="983.8" r="12.7"/>
<circle class="g" cx="2800.0" cy="934.9" r="8.3"/>
<circle class="g" cx="2794.7" cy="935.7" r="5.9"/>
<circle class="g" cx="2821.7" cy="950.3" r="7.7"/>
<circle class="g" cx="2768.3" cy="958.9" r="7.1"/>
<circle class="g" cx="2781.1" cy="971.3" r="12.7"/>
<circle class="g" cx="2760.6" cy="983.8" r="8.3"/>
<circle class="g" cx="2717.0" cy="977.8" r="5.3"/>
<circle class="g" cx="2665.1" cy="988.2" r="7.4"/>
<circle class="g" cx="2860.2" cy="959.2" r="8.0"/>
<circle class="g" cx="2853.4" cy="970.4" r="7.4"/>
<circle class="g" cx="2835.6" cy="977.0" r="5.9"/>
<circle class="g" cx="2914.8" cy="979.9" r="9.8"/>
<circle class="g" cx="2923.1" cy="982.3" r="5.3"/>
<circle class="g" cx="3109.0" cy="973.4" r="6.8"/>
<circle class="g" cx="3170.2" cy="616.1" r="6.8"/>
<circle class="g" cx="3281.7" cy="647.9" r="6.8"/>
<circle class="g" cx="3207.0" cy="733.8" r="11.9"/>
<circle class="g" cx="3245.3" cy="777.1" r="9.2"/>
<circle class="g" cx="3246.1" cy="788.4" r="15.7"/>
<circle class="g" cx="3282.3" cy="798.8" r="8.3"/>
<circle class="g" cx="3270.5" cy="821.3" r="8.0"/>
<circle class="g" cx="3297.1" cy="821.0" r="9.2"/>
<circle class="g" cx="3315.5" cy="842.3" r="5.9"/>
<circle class="g" cx="3169.1" cy="837.9" r="10.1"/>
<circle class="g" cx="3211.5" cy="855.4" r="8.0"/>
<circle class="g" cx="3327.7" cy="867.8" r="11.0"/>
<circle class="g" cx="3422.8" cy="864.9" r="7.7"/>
<circle class="g" cx="3210.3" cy="917.1" r="7.1"/>
<circle class="g" cx="3315.5" cy="906.4" r="6.8"/>
<circle class="g" cx="3364.7" cy="904.6" r="7.7"/>
<circle class="g" cx="3548.6" cy="918.8" r="8.6"/>
<circle class="g" cx="3304.8" cy="940.2" r="6.5"/>
<circle class="g" cx="3377.2" cy="982.3" r="5.9"/>
<circle class="g" cx="3460.2" cy="973.7" r="8.3"/>
<circle class="g" cx="3475.6" cy="1054.3" r="27.6"/>
<circle class="g" cx="3518.9" cy="1084.3" r="25.8"/>
<circle class="g" cx="3638.1" cy="1055.5" r="11.9"/>
<circle class="g" cx="3376.6" cy="1096.7" r="8.3"/>
<circle class="g" cx="3376.3" cy="1142.1" r="7.1"/>
<circle class="g" cx="3519.2" cy="1152.5" r="21.1"/>
<circle class="g" cx="3382.5" cy="1239.9" r="10.1"/>
<circle class="g" cx="3612.3" cy="1226.0" r="6.2"/>
<circle class="g" cx="3516.8" cy="1296.9" r="8.6"/>
<circle class="g" cx="3486.3" cy="1336.3" r="6.2"/>
<circle class="g" cx="3306.3" cy="1294.8" r="6.5"/>
<circle class="g" cx="3256.5" cy="1161.7" r="6.5"/>
<circle class="g" cx="3275.8" cy="1108.6" r="7.1"/>
<circle class="g" cx="3165.2" cy="1110.1" r="6.8"/>
<circle class="g" cx="3156.0" cy="1060.0" r="7.7"/>
<circle class="g" cx="3202.9" cy="1142.7" r="5.3"/>
<circle class="g" cx="3183.9" cy="1186.6" r="6.5"/>
<circle class="g" cx="3182.1" cy="1194.6" r="9.8"/>
<circle class="g" cx="3180.6" cy="1208.8" r="17.5"/>
<circle class="g" cx="3263.0" cy="1238.5" r="14.2"/>
<circle class="g" cx="3220.9" cy="1266.3" r="11.9"/>
<circle class="g" cx="3224.5" cy="1338.7" r="7.4"/>
<circle class="g" cx="3230.1" cy="1349.0" r="6.8"/>
<circle class="g" cx="3206.4" cy="1390.3" r="13.3"/>
<circle class="g" cx="3303.1" cy="993.6" r="11.9"/>
<circle class="g" cx="3394.1" cy="1000.4" r="7.4"/>
<circle class="g" cx="3287.4" cy="1026.2" r="9.2"/>
<circle class="g" cx="3250.3" cy="1005.7" r="7.1"/>
<circle class="g" cx="3236.4" cy="997.4" r="6.5"/>
<circle class="g" cx="3239.6" cy="1028.5" r="7.1"/>
<circle class="g" cx="3247.3" cy="1041.3" r="9.2"/>
<circle class="g" cx="3195.7" cy="1024.7" r="10.4"/>
<circle class="g" cx="3159.3" cy="1019.6" r="6.5"/>
<circle class="g" cx="3157.2" cy="1033.6" r="6.5"/>
<circle class="g" cx="3173.8" cy="1036.0" r="9.2"/>
<circle class="g" cx="3237.8" cy="1471.8" r="6.8"/>
<circle class="g" cx="2500.6" cy="1310.8" r="13.3"/>
<circle class="g" cx="2517.8" cy="1316.7" r="12.5"/>
<circle class="g" cx="2543.6" cy="1305.4" r="15.7"/>
<circle class="g" cx="2594.6" cy="1296.5" r="7.7"/>
<circle class="g" cx="2585.1" cy="1309.3" r="7.4"/>
<circle class="g" cx="2525.8" cy="1333.0" r="11.9"/>
<circle class="g" cx="2536.2" cy="1325.6" r="10.4"/>
<circle class="g" cx="2535.3" cy="1336.0" r="8.3"/>
<circle class="g" cx="2634.6" cy="1316.7" r="8.3"/>
<circle class="g" cx="2669.3" cy="1319.1" r="9.8"/>
<circle class="g" cx="2674.6" cy="1295.3" r="6.5"/>
<circle class="g" cx="2696.9" cy="1304.2" r="16.0"/>
<circle class="g" cx="2697.1" cy="1308.4" r="8.9"/>
<circle class="g" cx="2731.5" cy="1321.7" r="11.9"/>
<circle class="g" cx="2893.4" cy="1296.5" r="8.6"/>
<circle class="g" cx="2616.8" cy="1334.2" r="7.7"/>
<circle class="g" cx="2588.3" cy="1340.4" r="6.5"/>
<circle class="g" cx="2487.2" cy="1350.2" r="11.0"/>
<circle class="g" cx="2498.2" cy="1351.4" r="12.7"/>
<circle class="g" cx="2469.4" cy="1368.6" r="13.3"/>
<circle class="g" cx="2532.6" cy="1384.3" r="9.5"/>
<circle class="g" cx="2553.4" cy="1382.5" r="8.6"/>
<circle class="g" cx="2570.3" cy="1381.9" r="8.0"/>
<circle class="g" cx="2515.7" cy="1390.5" r="7.4"/>
<circle class="g" cx="2485.8" cy="1391.7" r="15.7"/>
<circle class="g" cx="2656.2" cy="1352.3" r="13.9"/>
<circle class="g" cx="2658.3" cy="1350.8" r="7.1"/>
<circle class="g" cx="2627.2" cy="1364.7" r="8.3"/>
<circle class="g" cx="2747.5" cy="1340.4" r="12.5"/>
<circle class="g" cx="2756.4" cy="1330.0" r="7.4"/>
<circle class="g" cx="2735.4" cy="1350.2" r="6.8"/>
<circle class="g" cx="2776.9" cy="1336.0" r="12.2"/>
<circle class="g" cx="2793.2" cy="1367.1" r="11.0"/>
<circle class="g" cx="2838.9" cy="1363.8" r="6.8"/>
<circle class="g" cx="2897.0" cy="1341.9" r="6.5"/>
<circle class="g" cx="2988.0" cy="1330.6" r="6.5"/>
<circle class="g" cx="2595.7" cy="1396.7" r="21.1"/>
<circle class="g" cx="2675.8" cy="1413.3" r="7.1"/>
<circle class="g" cx="2712.3" cy="1417.5" r="10.1"/>
<circle class="g" cx="2731.8" cy="1412.4" r="8.0"/>
<circle class="g" cx="2805.4" cy="1429.1" r="10.1"/>
<circle class="g" cx="2870.3" cy="1412.2" r="8.6"/>
<circle class="g" cx="2866.7" cy="1412.2" r="5.9"/>
<circle class="g" cx="2985.0" cy="1393.5" r="6.8"/>
<circle class="g" cx="3011.1" cy="1398.8" r="8.3"/>
<circle class="g" cx="3062.4" cy="1403.0" r="7.7"/>
<circle class="g" cx="2572.6" cy="1424.0" r="6.5"/>
<circle class="g" cx="2578.6" cy="1422.5" r="7.4"/>
<circle class="g" cx="2489.3" cy="1436.5" r="12.2"/>
<circle class="g" cx="2830.6" cy="1448.0" r="9.5"/>
<circle class="g" cx="2519.6" cy="1457.8" r="9.2"/>
<circle class="g" cx="2529.3" cy="1453.7" r="6.8"/>
<circle class="g" cx="2631.6" cy="1452.2" r="8.6"/>
<circle class="g" cx="2631.9" cy="1466.7" r="6.5"/>
<circle class="g" cx="2560.5" cy="1484.2" r="7.1"/>
<circle class="g" cx="2578.0" cy="1481.8" r="10.1"/>
<circle class="g" cx="2603.2" cy="1479.2" r="7.4"/>
<circle class="g" cx="2752.9" cy="1486.6" r="6.8"/>
<circle class="g" cx="2815.7" cy="1475.0" r="18.4"/>
<circle class="g" cx="2797.1" cy="1470.0" r="6.8"/>
<circle class="g" cx="2847.5" cy="1462.3" r="7.7"/>
<circle class="g" cx="2876.8" cy="1464.0" r="6.5"/>
<circle class="g" cx="2886.0" cy="1464.0" r="7.7"/>
<circle class="g" cx="2906.5" cy="1468.2" r="10.7"/>
<circle class="g" cx="2978.2" cy="1474.4" r="7.4"/>
<circle class="g" cx="2945.6" cy="1503.8" r="6.5"/>
<circle class="g" cx="2549.5" cy="1508.8" r="7.4"/>
<circle class="g" cx="2558.1" cy="1518.3" r="6.8"/>
<circle class="g" cx="2649.1" cy="1539.9" r="7.7"/>
<circle class="g" cx="2762.1" cy="1552.1" r="8.3"/>
<circle class="g" cx="2834.1" cy="1548.5" r="7.7"/>
<circle class="g" cx="2648.8" cy="1580.0" r="7.4"/>
<circle class="g" cx="1802.8" cy="1197.2" r="6.7"/>
<circle class="g" cx="1826.5" cy="1253.9" r="12.6"/>
<circle class="g" cx="1841.6" cy="1271.3" r="7.1"/>
<circle class="g" cx="1813.9" cy="1283.6" r="14.1"/>
<circle class="g" cx="1817.9" cy="1284.0" r="7.4"/>
<circle class="g" cx="1811.0" cy="1328.1" r="17.8"/>
<circle class="g" cx="1845.8" cy="1295.4" r="6.7"/>
<circle class="g" cx="1864.3" cy="1320.2" r="22.2"/>
<circle class="g" cx="1856.9" cy="1350.3" r="15.6"/>
<circle class="g" cx="1776.1" cy="1355.5" r="11.9"/>
<circle class="g" cx="1796.1" cy="1349.5" r="5.9"/>
<circle class="g" cx="1787.2" cy="1370.3" r="14.8"/>
<circle class="g" cx="1803.5" cy="1361.4" r="8.2"/>
<circle class="g" cx="1832.5" cy="1362.1" r="8.9"/>
<circle class="g" cx="1813.9" cy="1370.3" r="5.2"/>
<circle class="g" cx="1832.5" cy="1377.7" r="13.3"/>
<circle class="g" cx="1799.1" cy="1382.9" r="5.2"/>
<circle class="g" cx="1868.5" cy="1372.5" r="8.2"/>
<circle class="g" cx="1885.8" cy="1227.5" r="8.5"/>
<circle class="g" cx="1880.9" cy="1255.9" r="8.6"/>
<circle class="g" cx="1941.4" cy="1250.2" r="10.4"/>
<circle class="g" cx="1937.4" cy="1262.4" r="9.6"/>
<circle class="g" cx="1989.1" cy="1235.8" r="12.9"/>
<circle class="g" cx="1925.4" cy="1306.6" r="22.2"/>
<circle class="g" cx="1928.1" cy="1299.1" r="11.9"/>
<circle class="g" cx="1930.7" cy="1306.9" r="8.2"/>
<circle class="g" cx="1947.3" cy="1320.6" r="5.9"/>
<circle class="g" cx="1974.8" cy="1317.7" r="17.0"/>
<circle class="g" cx="1985.1" cy="1305.4" r="8.2"/>
<circle class="g" cx="1962.9" cy="1325.8" r="9.3"/>
<circle class="g" cx="1960.7" cy="1340.7" r="6.7"/>
<circle class="g" cx="1899.9" cy="1357.0" r="5.2"/>
<circle class="g" cx="1969.3" cy="1351.0" r="6.7"/>
<circle class="g" cx="1974.8" cy="1359.2" r="8.2"/>
<circle class="g" cx="1997.0" cy="1357.7" r="20.0"/>
<circle class="g" cx="1961.4" cy="1364.4" r="6.7"/>
<circle class="g" cx="1899.9" cy="1366.6" r="5.9"/>
<circle class="g" cx="1894.0" cy="1379.2" r="14.1"/>
<circle class="g" cx="1908.1" cy="1382.2" r="9.6"/>
<circle class="g" cx="2003.7" cy="1196.6" r="7.4"/>
<circle class="g" cx="2015.5" cy="1189.4" r="11.1"/>
<circle class="g" cx="2039.2" cy="1216.9" r="11.9"/>
<circle class="g" cx="2028.9" cy="1236.9" r="5.9"/>
<circle class="g" cx="2037.8" cy="1236.9" r="6.2"/>
<circle class="g" cx="2098.5" cy="1247.0" r="8.9"/>
<circle class="g" cx="2030.8" cy="1267.3" r="6.4"/>
<circle class="g" cx="2016.3" cy="1285.8" r="5.9"/>
<circle class="g" cx="2031.8" cy="1295.4" r="8.2"/>
<circle class="g" cx="2042.2" cy="1281.4" r="7.4"/>
<circle class="g" cx="2040.7" cy="1326.6" r="12.6"/>
<circle class="g" cx="2068.9" cy="1329.5" r="11.1"/>
<circle class="g" cx="2076.3" cy="1320.6" r="5.2"/>
<circle class="g" cx="2061.5" cy="1354.0" r="9.3"/>
<circle class="g" cx="2052.6" cy="1384.4" r="10.4"/>
<circle class="g" cx="2009.6" cy="1385.1" r="6.7"/>
<circle class="g" cx="2086.7" cy="1383.6" r="14.8"/>
<circle class="g" cx="2108.9" cy="1382.2" r="9.6"/>
<circle class="g" cx="2113.4" cy="1346.6" r="3.7"/>
<circle class="g" cx="2111.9" cy="1367.3" r="4.4"/>
<circle class="g" cx="2057.0" cy="1188.0" r="7.4"/>
<circle class="g" cx="2064.4" cy="1193.9" r="5.9"/>
<circle class="g" cx="2129.8" cy="1185.7" r="4.4"/>
<circle class="g" cx="2190.6" cy="1185.7" r="7.4"/>
<circle class="g" cx="2153.5" cy="1215.4" r="12.6"/>
<circle class="g" cx="2167.6" cy="1227.2" r="7.4"/>
<circle class="g" cx="2120.2" cy="1235.4" r="7.4"/>
<circle class="g" cx="2183.5" cy="1246.5" r="5.9"/>
<circle class="g" cx="2158.0" cy="1279.9" r="6.7"/>
<circle class="g" cx="2149.5" cy="1305.4" r="7.9"/>
<circle class="g" cx="2163.9" cy="1314.4" r="8.9"/>
<circle class="g" cx="2166.1" cy="1303.6" r="6.7"/>
<circle class="g" cx="2196.5" cy="1308.8" r="11.9"/>
<circle class="g" cx="2143.2" cy="1338.4" r="9.6"/>
<circle class="g" cx="2161.0" cy="1351.0" r="12.6"/>
<circle class="g" cx="2156.5" cy="1349.5" r="6.7"/>
<circle class="g" cx="2175.0" cy="1349.5" r="5.2"/>
<circle class="g" cx="2179.5" cy="1339.9" r="12.6"/>
<circle class="g" cx="2186.2" cy="1355.5" r="6.7"/>
<circle class="g" cx="2154.3" cy="1364.4" r="6.7"/>
<circle class="g" cx="2123.9" cy="1369.6" r="12.6"/>
<circle class="g" cx="2138.7" cy="1368.8" r="6.7"/>
<circle class="g" cx="2123.2" cy="1364.4" r="5.9"/>
<circle class="g" cx="2146.1" cy="1385.1" r="5.9"/>
<circle class="g" cx="2213.6" cy="1188.7" r="6.7"/>
<circle class="g" cx="2225.4" cy="1214.6" r="8.9"/>
<circle class="g" cx="2218.8" cy="1287.3" r="8.2"/>
<circle class="g" cx="2228.4" cy="1282.8" r="9.6"/>
<circle class="g" cx="2254.3" cy="1277.7" r="8.2"/>
<circle class="g" cx="2261.0" cy="1254.7" r="4.4"/>
<circle class="g" cx="2307.7" cy="1255.4" r="6.7"/>
<circle class="g" cx="2308.2" cy="1273.5" r="8.6"/>
<circle class="g" cx="2242.5" cy="1305.1" r="11.1"/>
<circle class="g" cx="2252.1" cy="1315.5" r="9.6"/>
<circle class="g" cx="2273.6" cy="1306.6" r="8.2"/>
<circle class="g" cx="2295.1" cy="1305.8" r="9.6"/>
<circle class="g" cx="2232.6" cy="1323.2" r="5.6"/>
<circle class="g" cx="2255.1" cy="1326.6" r="8.9"/>
<circle class="g" cx="2281.8" cy="1322.1" r="11.9"/>
<circle class="g" cx="2266.2" cy="1333.2" r="13.3"/>
<circle class="g" cx="2235.5" cy="1337.7" r="7.1"/>
<circle class="g" cx="2285.5" cy="1341.8" r="7.1"/>
<circle class="g" cx="2247.7" cy="1352.5" r="7.4"/>
<circle class="g" cx="2236.6" cy="1372.5" r="8.9"/>
<circle class="g" cx="2248.4" cy="1371.8" r="5.9"/>
<circle class="g" cx="2214.3" cy="1376.2" r="12.6"/>
<circle class="g" cx="2279.5" cy="1362.1" r="5.2"/>
<circle class="g" cx="2282.5" cy="1382.2" r="7.4"/>
<circle class="g" cx="2292.9" cy="1380.7" r="7.4"/>
<circle class="g" cx="2264.7" cy="1193.2" r="13.3"/>
<circle class="g" cx="2270.7" cy="1204.3" r="5.2"/>
<circle class="g" cx="2313.6" cy="1192.4" r="13.3"/>
<circle class="g" cx="2309.2" cy="1190.9" r="5.9"/>
<circle class="g" cx="2307.0" cy="1208.7" r="6.7"/>
<circle class="g" cx="2328.5" cy="1202.0" r="8.9"/>
<circle class="g" cx="2329.2" cy="1210.2" r="7.4"/>
<circle class="g" cx="2336.6" cy="1228.0" r="17.8"/>
<circle class="g" cx="2328.5" cy="1223.5" r="7.4"/>
<circle class="g" cx="2315.9" cy="1235.4" r="6.7"/>
<circle class="g" cx="2328.5" cy="1249.5" r="8.2"/>
<circle class="g" cx="2341.1" cy="1262.8" r="12.6"/>
<circle class="g" cx="2335.9" cy="1257.6" r="5.9"/>
<circle class="g" cx="2372.9" cy="1225.8" r="7.4"/>
<circle class="g" cx="2353.7" cy="1208.7" r="8.2"/>
<circle class="g" cx="2333.7" cy="1277.7" r="9.6"/>
<circle class="g" cx="2333.7" cy="1287.3" r="8.9"/>
<circle class="g" cx="2332.2" cy="1294.0" r="8.9"/>
<circle class="g" cx="2356.3" cy="1274.7" r="7.1"/>
<circle class="g" cx="2310.7" cy="1313.2" r="14.1"/>
<circle class="g" cx="2307.7" cy="1308.0" r="8.9"/>
<circle class="g" cx="2347.0" cy="1311.0" r="14.1"/>
<circle class="g" cx="2337.4" cy="1334.7" r="11.1"/>
<circle class="g" cx="2370.0" cy="1339.9" r="26.7"/>
<circle class="g" cx="2380.4" cy="1328.1" r="9.6"/>
<circle class="g" cx="2327.0" cy="1351.8" r="8.2"/>
<circle class="g" cx="2315.1" cy="1350.3" r="6.7"/>
<circle class="g" cx="2312.2" cy="1355.5" r="6.7"/>
<circle class="g" cx="2332.9" cy="1359.9" r="14.8"/>
<circle class="g" cx="2364.0" cy="1374.0" r="10.4"/>
<circle class="g" cx="2349.2" cy="1377.7" r="5.9"/>
<circle class="g" cx="2367.0" cy="1192.4" r="17.8"/>
<circle class="g" cx="2358.1" cy="1190.2" r="7.4"/>
<circle class="g" cx="2399.6" cy="1190.9" r="8.2"/>
<circle class="g" cx="2415.2" cy="1188.0" r="6.7"/>
<circle class="g" cx="2387.0" cy="1213.9" r="6.7"/>
<circle class="g" cx="2405.6" cy="1212.4" r="6.7"/>
<circle class="g" cx="2410.4" cy="1229.5" r="6.7"/>
<circle class="g" cx="2413.7" cy="1248.0" r="6.2"/>
<circle class="g" cx="2439.7" cy="1256.2" r="10.4"/>
<circle class="g" cx="2417.4" cy="1282.1" r="10.4"/>
<circle class="g" cx="2386.3" cy="1283.6" r="9.6"/>
<circle class="g" cx="2420.4" cy="1321.4" r="20.8"/>
<circle class="g" cx="2420.4" cy="1327.3" r="16.3"/>
<circle class="g" cx="2427.8" cy="1338.4" r="6.2"/>
<circle class="g" cx="2447.8" cy="1349.3" r="7.1"/>
<circle class="g" cx="2456.0" cy="1355.5" r="7.4"/>
<circle class="g" cx="2458.9" cy="1367.3" r="12.6"/>
<circle class="g" cx="2432.2" cy="1374.8" r="5.6"/>
<circle class="g" cx="2427.8" cy="1380.7" r="11.9"/>
<circle class="g" cx="2402.6" cy="1382.9" r="9.6"/>
<circle class="g" cx="1773.9" cy="1402.8" r="13.3"/>
<circle class="g" cx="1831.7" cy="1388.3" r="11.1"/>
<circle class="g" cx="1894.0" cy="1393.9" r="14.8"/>
<circle class="g" cx="1910.3" cy="1404.3" r="12.6"/>
<circle class="g" cx="1904.3" cy="1402.8" r="8.9"/>
<circle class="g" cx="1946.6" cy="1413.2" r="11.1"/>
<circle class="g" cx="1956.2" cy="1414.7" r="6.7"/>
<circle class="g" cx="1919.9" cy="1434.7" r="8.9"/>
<circle class="g" cx="2005.9" cy="1407.6" r="6.2"/>
<circle class="g" cx="1981.4" cy="1414.7" r="8.6"/>
<circle class="g" cx="1982.2" cy="1420.9" r="7.1"/>
<circle class="g" cx="1982.9" cy="1432.5" r="8.2"/>
<circle class="g" cx="2017.8" cy="1396.9" r="9.6"/>
<circle class="g" cx="2051.1" cy="1393.9" r="13.3"/>
<circle class="g" cx="2056.3" cy="1400.6" r="8.9"/>
<circle class="g" cx="2075.6" cy="1395.4" r="7.4"/>
<circle class="g" cx="2068.9" cy="1423.1" r="9.3"/>
<circle class="g" cx="2113.4" cy="1417.6" r="7.4"/>
<circle class="g" cx="1882.9" cy="1441.4" r="8.9"/>
<circle class="g" cx="1787.5" cy="1461.4" r="10.8"/>
<circle class="g" cx="1853.9" cy="1474.0" r="16.6"/>
<circle class="g" cx="1905.8" cy="1460.9" r="6.7"/>
<circle class="g" cx="1801.0" cy="1488.1" r="10.1"/>
<circle class="g" cx="1800.6" cy="1487.3" r="7.4"/>
<circle class="g" cx="1859.1" cy="1497.7" r="12.6"/>
<circle class="g" cx="1856.2" cy="1499.2" r="8.2"/>
<circle class="g" cx="1809.0" cy="1518.5" r="6.8"/>
<circle class="g" cx="1874.0" cy="1522.5" r="8.9"/>
<circle class="g" cx="1965.9" cy="1445.1" r="13.3"/>
<circle class="g" cx="1938.0" cy="1451.7" r="7.1"/>
<circle class="g" cx="1948.4" cy="1461.8" r="8.9"/>
<circle class="g" cx="1968.1" cy="1460.6" r="7.1"/>
<circle class="g" cx="2002.9" cy="1442.1" r="8.6"/>
<circle class="g" cx="2000.0" cy="1456.9" r="16.0"/>
<circle class="g" cx="1992.6" cy="1471.0" r="17.0"/>
<circle class="g" cx="1987.4" cy="1462.9" r="8.2"/>
<circle class="g" cx="2004.4" cy="1472.5" r="8.9"/>
<circle class="g" cx="1937.3" cy="1504.1" r="7.9"/>
<circle class="g" cx="1974.0" cy="1497.7" r="6.7"/>
<circle class="g" cx="1974.8" cy="1503.6" r="8.2"/>
<circle class="g" cx="2083.0" cy="1449.5" r="6.7"/>
<circle class="g" cx="2079.3" cy="1468.1" r="14.8"/>
<circle class="g" cx="2106.0" cy="1468.8" r="9.6"/>
<circle class="g" cx="2043.4" cy="1480.7" r="5.9"/>
<circle class="g" cx="2023.7" cy="1499.9" r="6.7"/>
<circle class="g" cx="2031.8" cy="1497.0" r="6.7"/>
<circle class="g" cx="2053.3" cy="1502.1" r="8.9"/>
<circle class="g" cx="2067.4" cy="1499.2" r="6.7"/>
<circle class="g" cx="2035.5" cy="1508.8" r="7.4"/>
<circle class="g" cx="2036.3" cy="1518.5" r="7.4"/>
<circle class="g" cx="2018.5" cy="1527.3" r="11.1"/>
<circle class="g" cx="2043.0" cy="1535.5" r="10.4"/>
<circle class="g" cx="1980.0" cy="1529.6" r="5.9"/>
<circle class="g" cx="2100.8" cy="1523.6" r="6.2"/>
<circle class="g" cx="2106.0" cy="1530.3" r="5.6"/>
<circle class="g" cx="1848.0" cy="1549.1" r="7.7"/>
<circle class="g" cx="1971.8" cy="1552.5" r="11.1"/>
<circle class="g" cx="1880.9" cy="1579.2" r="14.8"/>
<circle class="g" cx="2085.5" cy="1583.7" r="6.7"/>
<circle class="g" cx="2129.8" cy="1413.9" r="23.7"/>
<circle class="g" cx="2118.7" cy="1402.8" r="6.7"/>
<circle class="g" cx="2140.2" cy="1410.2" r="8.2"/>
<circle class="g" cx="2202.5" cy="1393.2" r="8.2"/>
<circle class="g" cx="2211.4" cy="1392.4" r="6.7"/>
<circle class="g" cx="2219.5" cy="1395.4" r="6.7"/>
<circle class="g" cx="2218.8" cy="1388.7" r="9.6"/>
<circle class="g" cx="2252.4" cy="1413.5" r="10.1"/>
<circle class="g" cx="2261.8" cy="1445.1" r="16.3"/>
<circle class="g" cx="2295.1" cy="1434.7" r="7.0"/>
<circle class="g" cx="2171.3" cy="1452.5" r="20.8"/>
<circle class="g" cx="2144.6" cy="1462.1" r="10.4"/>
<circle class="g" cx="2127.6" cy="1465.1" r="17.8"/>
<circle class="g" cx="2125.4" cy="1466.6" r="8.2"/>
<circle class="g" cx="2224.7" cy="1451.7" r="8.2"/>
<circle class="g" cx="2260.3" cy="1458.4" r="5.9"/>
<circle class="g" cx="2230.6" cy="1467.6" r="7.1"/>
<circle class="g" cx="2151.8" cy="1478.9" r="8.9"/>
<circle class="g" cx="2166.7" cy="1482.4" r="7.0"/>
<circle class="g" cx="2157.0" cy="1496.2" r="7.7"/>
<circle class="g" cx="2127.6" cy="1501.4" r="8.9"/>
<circle class="g" cx="2137.2" cy="1513.3" r="20.8"/>
<circle class="g" cx="2149.8" cy="1505.9" r="8.2"/>
<circle class="g" cx="2163.9" cy="1506.6" r="8.2"/>
<circle class="g" cx="2170.6" cy="1517.0" r="9.6"/>
<circle class="g" cx="2119.4" cy="1526.6" r="8.2"/>
<circle class="g" cx="2242.0" cy="1493.3" r="10.8"/>
<circle class="g" cx="2273.6" cy="1500.2" r="16.3"/>
<circle class="g" cx="2266.9" cy="1502.1" r="6.7"/>
<circle class="g" cx="2282.5" cy="1484.4" r="6.7"/>
<circle class="g" cx="2289.2" cy="1471.0" r="8.9"/>
<circle class="g" cx="2281.8" cy="1472.5" r="5.9"/>
<circle class="g" cx="2311.0" cy="1474.0" r="11.9"/>
<circle class="g" cx="2320.3" cy="1481.4" r="10.4"/>
<circle class="g" cx="2246.2" cy="1509.6" r="8.2"/>
<circle class="g" cx="2253.6" cy="1517.0" r="9.6"/>
<circle class="g" cx="2261.8" cy="1532.5" r="7.4"/>
<circle class="g" cx="2210.9" cy="1525.9" r="8.2"/>
<circle class="g" cx="2214.6" cy="1537.7" r="11.1"/>
<circle class="g" cx="2185.4" cy="1536.7" r="8.2"/>
<circle class="g" cx="2281.8" cy="1543.7" r="13.3"/>
<circle class="g" cx="2274.4" cy="1549.6" r="5.9"/>
<circle class="g" cx="2132.5" cy="1546.6" r="6.2"/>
<circle class="g" cx="2118.0" cy="1556.3" r="7.4"/>
<circle class="g" cx="2125.7" cy="1567.7" r="6.7"/>
<circle class="g" cx="2153.5" cy="1575.5" r="8.2"/>
<circle class="g" cx="2275.8" cy="1401.3" r="12.3"/>
<circle class="g" cx="2292.9" cy="1402.1" r="6.7"/>
<circle class="g" cx="2285.5" cy="1391.0" r="7.4"/>
<circle class="g" cx="2349.2" cy="1423.6" r="13.3"/>
<circle class="g" cx="2337.4" cy="1432.5" r="8.2"/>
<circle class="g" cx="2367.0" cy="1423.6" r="6.7"/>
<circle class="g" cx="2377.4" cy="1429.5" r="10.4"/>
<circle class="g" cx="2386.3" cy="1419.1" r="8.9"/>
<circle class="g" cx="2383.3" cy="1440.6" r="12.6"/>
<circle class="g" cx="2390.7" cy="1455.9" r="8.2"/>
<circle class="g" cx="2334.8" cy="1459.2" r="11.6"/>
<circle class="g" cx="2425.6" cy="1389.5" r="10.4"/>
<circle class="g" cx="2435.2" cy="1427.0" r="11.1"/>
<circle class="g" cx="2444.1" cy="1462.4" r="10.1"/>
<circle class="g" cx="2422.6" cy="1479.9" r="9.6"/>
<circle class="g" cx="2401.6" cy="1500.4" r="6.7"/>
<circle class="g" cx="2451.1" cy="1517.0" r="6.2"/>
<circle class="g" cx="2453.7" cy="1543.4" r="7.9"/>
<circle class="g" cx="2399.6" cy="1569.2" r="8.2"/>
<circle class="g" cx="2206.9" cy="1551.1" r="11.1"/>
<circle class="g" cx="2540.9" cy="1013.0" r="5.9"/>
<circle class="g" cx="2509.5" cy="1027.1" r="11.1"/>
<circle class="g" cx="2509.9" cy="1044.8" r="12.6"/>
<circle class="g" cx="2582.1" cy="1006.3" r="8.2"/>
<circle class="g" cx="2599.2" cy="1015.2" r="8.2"/>
<circle class="g" cx="2589.5" cy="1042.2" r="7.1"/>
<circle class="g" cx="2608.8" cy="1054.0" r="7.4"/>
<circle class="g" cx="2571.7" cy="1063.8" r="7.4"/>
<circle class="g" cx="2595.5" cy="1066.8" r="10.1"/>
<circle class="g" cx="2545.8" cy="1073.3" r="7.0"/>
<circle class="g" cx="2473.2" cy="1067.8" r="8.2"/>
<circle class="g" cx="2475.4" cy="1074.5" r="6.7"/>
<circle class="g" cx="2511.0" cy="1081.9" r="6.7"/>
<circle class="g" cx="2545.1" cy="1101.9" r="6.7"/>
<circle class="g" cx="2519.1" cy="1110.1" r="20.0"/>
<circle class="g" cx="2529.0" cy="1124.2" r="7.4"/>
<circle class="g" cx="2558.4" cy="1114.5" r="13.3"/>
<circle class="g" cx="2562.8" cy="1118.2" r="5.9"/>
<circle class="g" cx="2556.6" cy="1133.8" r="6.7"/>
<circle class="g" cx="2491.4" cy="1132.3" r="6.7"/>
<circle class="g" cx="2490.9" cy="1144.9" r="6.7"/>
<circle class="g" cx="2470.9" cy="1142.7" r="11.1"/>
<circle class="g" cx="2521.8" cy="1146.4" r="11.6"/>
<circle class="g" cx="2582.1" cy="1104.1" r="8.9"/>
<circle class="g" cx="2606.9" cy="1108.6" r="7.4"/>
<circle class="g" cx="2587.3" cy="1121.2" r="14.1"/>
<circle class="g" cx="2598.4" cy="1147.9" r="11.1"/>
<circle class="g" cx="2589.5" cy="1154.5" r="6.7"/>
<circle class="g" cx="2483.5" cy="1170.1" r="9.6"/>
<circle class="g" cx="2516.9" cy="1168.6" r="6.2"/>
<circle class="g" cx="2540.6" cy="1180.5" r="12.6"/>
<circle class="g" cx="2515.4" cy="1181.2" r="5.2"/>
<circle class="g" cx="2465.0" cy="1175.3" r="5.9"/>
<circle class="g" cx="2585.1" cy="1170.1" r="8.9"/>
<circle class="g" cx="2594.0" cy="1190.1" r="5.9"/>
<circle class="g" cx="2619.2" cy="1184.2" r="14.1"/>
<circle class="g" cx="2646.6" cy="1033.0" r="8.2"/>
<circle class="g" cx="2631.0" cy="1052.3" r="10.4"/>
<circle class="g" cx="2669.6" cy="1041.9" r="9.6"/>
<circle class="g" cx="2687.4" cy="1042.6" r="13.3"/>
<circle class="g" cx="2677.0" cy="1056.7" r="8.9"/>
<circle class="g" cx="2703.7" cy="1034.0" r="6.7"/>
<circle class="g" cx="2724.1" cy="1038.2" r="14.5"/>
<circle class="g" cx="2739.2" cy="1047.1" r="5.9"/>
<circle class="g" cx="2733.3" cy="1056.0" r="6.7"/>
<circle class="g" cx="2654.0" cy="1070.8" r="15.6"/>
<circle class="g" cx="2656.2" cy="1066.3" r="6.7"/>
<circle class="g" cx="2648.4" cy="1081.2" r="5.9"/>
<circle class="g" cx="2631.0" cy="1076.0" r="6.7"/>
<circle class="g" cx="2612.5" cy="1089.6" r="7.1"/>
<circle class="g" cx="2699.2" cy="1073.8" r="5.2"/>
<circle class="g" cx="2735.1" cy="1066.3" r="5.9"/>
<circle class="g" cx="2709.6" cy="1107.1" r="8.9"/>
<circle class="g" cx="2737.8" cy="1108.6" r="7.4"/>
<circle class="g" cx="2780.8" cy="1068.6" r="5.9"/>
<circle class="g" cx="2777.8" cy="1053.7" r="7.1"/>
<circle class="g" cx="2811.9" cy="1052.3" r="5.9"/>
<circle class="g" cx="2810.4" cy="1059.7" r="6.7"/>
<circle class="g" cx="2773.3" cy="1116.0" r="8.9"/>
<circle class="g" cx="2762.2" cy="1133.1" r="8.2"/>
<circle class="g" cx="2798.5" cy="1127.1" r="7.4"/>
<circle class="g" cx="2807.4" cy="1132.3" r="5.9"/>
<circle class="g" cx="2635.5" cy="1120.5" r="8.2"/>
<circle class="g" cx="2639.2" cy="1130.1" r="6.7"/>
<circle class="g" cx="2634.0" cy="1129.3" r="4.4"/>
<circle class="g" cx="2677.0" cy="1138.2" r="7.4"/>
<circle class="g" cx="2705.2" cy="1142.7" r="6.7"/>
<circle class="g" cx="2701.9" cy="1154.5" r="7.1"/>
<circle class="g" cx="2752.6" cy="1156.8" r="7.1"/>
<circle class="g" cx="2805.2" cy="1175.0" r="6.7"/>
<circle class="g" cx="2774.1" cy="1001.9" r="8.9"/>
<circle class="g" cx="2799.3" cy="1019.4" r="8.2"/>
<circle class="g" cx="2741.5" cy="1014.5" r="7.4"/>
<circle class="g" cx="2747.4" cy="1024.1" r="6.7"/>
<circle class="g" cx="2755.6" cy="1036.0" r="7.4"/>
<circle class="g" cx="2858.0" cy="995.9" r="8.2"/>
<circle class="g" cx="2901.7" cy="1007.5" r="11.9"/>
<circle class="g" cx="2912.8" cy="998.2" r="7.4"/>
<circle class="g" cx="2924.7" cy="999.2" r="6.7"/>
<circle class="g" cx="2907.2" cy="1024.1" r="8.2"/>
<circle class="g" cx="2839.5" cy="1017.4" r="5.9"/>
<circle class="g" cx="2942.5" cy="1004.1" r="6.2"/>
<circle class="g" cx="2954.3" cy="1019.6" r="7.1"/>
<circle class="g" cx="2998.8" cy="995.9" r="5.9"/>
<circle class="g" cx="3115.2" cy="992.2" r="6.7"/>
<circle class="g" cx="2851.3" cy="1045.1" r="6.7"/>
<circle class="g" cx="2904.4" cy="1044.8" r="11.6"/>
<circle class="g" cx="2820.9" cy="1073.0" r="8.9"/>
<circle class="g" cx="2831.8" cy="1072.3" r="6.7"/>
<circle class="g" cx="2838.7" cy="1096.7" r="10.1"/>
<circle class="g" cx="2877.6" cy="1080.7" r="6.4"/>
<circle class="g" cx="2945.7" cy="1054.8" r="9.2"/>
<circle class="g" cx="2931.4" cy="1076.7" r="8.9"/>
<circle class="g" cx="2958.1" cy="1071.8" r="11.1"/>
<circle class="g" cx="2939.1" cy="1099.7" r="6.7"/>
<circle class="g" cx="2981.8" cy="1064.1" r="8.9"/>
<circle class="g" cx="2999.3" cy="1066.6" r="7.4"/>
<circle class="g" cx="3012.2" cy="1074.5" r="5.2"/>
<circle class="g" cx="3032.9" cy="1099.7" r="7.9"/>
<circle class="g" cx="3080.1" cy="1095.5" r="13.8"/>
<circle class="g" cx="3109.3" cy="1036.0" r="6.7"/>
<circle class="g" cx="3121.6" cy="1040.0" r="8.2"/>
<circle class="g" cx="3107.8" cy="1086.4" r="7.4"/>
<circle class="g" cx="3120.1" cy="1080.4" r="7.1"/>
<circle class="g" cx="3121.1" cy="1112.7" r="7.7"/>
<circle class="g" cx="2986.2" cy="1112.3" r="11.6"/>
<circle class="g" cx="2965.5" cy="1126.4" r="8.2"/>
<circle class="g" cx="2957.3" cy="1139.7" r="8.9"/>
<circle class="g" cx="3022.8" cy="1131.9" r="8.4"/>
<circle class="g" cx="3046.3" cy="1142.2" r="6.4"/>
<circle class="g" cx="2849.4" cy="1117.5" r="5.9"/>
<circle class="g" cx="2853.5" cy="1123.4" r="5.2"/>
<circle class="g" cx="2836.5" cy="1128.9" r="5.9"/>
<circle class="g" cx="2818.0" cy="1134.5" r="8.9"/>
<circle class="g" cx="2817.2" cy="1139.7" r="5.9"/>
<circle class="g" cx="2839.5" cy="1145.7" r="7.1"/>
<circle class="g" cx="2846.9" cy="1159.0" r="9.6"/>
<circle class="g" cx="2929.9" cy="1159.7" r="9.6"/>
<circle class="g" cx="2932.1" cy="1181.2" r="8.9"/>
<circle class="g" cx="2836.5" cy="1182.0" r="6.7"/>
<circle class="g" cx="2831.3" cy="1187.9" r="6.7"/>
<circle class="g" cx="2958.1" cy="1156.0" r="6.7"/>
<circle class="g" cx="3019.6" cy="1187.2" r="7.7"/>
<circle class="g" cx="3112.2" cy="1162.7" r="5.9"/>
<circle class="g" cx="3058.1" cy="1185.7" r="5.2"/>
<circle class="g" cx="2558.8" cy="1203.7" r="8.6"/>
<circle class="g" cx="2596.9" cy="1204.5" r="4.4"/>
<circle class="g" cx="2644.4" cy="1213.4" r="9.6"/>
<circle class="g" cx="2584.0" cy="1228.5" r="10.4"/>
<circle class="g" cx="2605.8" cy="1231.1" r="10.1"/>
<circle class="g" cx="2605.4" cy="1237.8" r="5.9"/>
<circle class="g" cx="2552.5" cy="1250.0" r="5.2"/>
<circle class="g" cx="2472.4" cy="1263.0" r="9.6"/>
<circle class="g" cx="2488.7" cy="1260.8" r="7.4"/>
<circle class="g" cx="2501.3" cy="1267.5" r="7.4"/>
<circle class="g" cx="2575.4" cy="1248.2" r="6.7"/>
<circle class="g" cx="2577.2" cy="1259.3" r="11.1"/>
<circle class="g" cx="2579.1" cy="1272.7" r="10.1"/>
<circle class="g" cx="2576.9" cy="1272.7" r="6.2"/>
<circle class="g" cx="2558.8" cy="1279.3" r="8.9"/>
<circle class="g" cx="2538.4" cy="1283.0" r="7.7"/>
<circle class="g" cx="2482.8" cy="1286.3" r="7.1"/>
<circle class="g" cx="2509.9" cy="1282.7" r="5.9"/>
<circle class="g" cx="2605.8" cy="1254.1" r="5.6"/>
<circle class="g" cx="2624.1" cy="1271.2" r="8.6"/>
<circle class="g" cx="2665.1" cy="1252.3" r="9.3"/>
<circle class="g" cx="2730.4" cy="1198.5" r="6.7"/>
<circle class="g" cx="2731.1" cy="1203.7" r="7.1"/>
<circle class="g" cx="2743.7" cy="1218.5" r="10.4"/>
<circle class="g" cx="2734.1" cy="1214.8" r="5.9"/>
<circle class="g" cx="2774.4" cy="1220.3" r="7.1"/>
<circle class="g" cx="2760.0" cy="1237.1" r="10.1"/>
<circle class="g" cx="2772.6" cy="1254.9" r="5.6"/>
<circle class="g" cx="2735.5" cy="1263.0" r="10.4"/>
<circle class="g" cx="2786.4" cy="1262.6" r="6.7"/>
<circle class="g" cx="2804.5" cy="1277.8" r="17.8"/>
<circle class="g" cx="2836.5" cy="1195.6" r="5.2"/>
<circle class="g" cx="2920.1" cy="1229.7" r="7.0"/>
<circle class="g" cx="2966.9" cy="1217.8" r="6.7"/>
<circle class="g" cx="2975.1" cy="1260.1" r="9.6"/>
<circle class="g" cx="3016.3" cy="1264.1" r="9.6"/>
<circle class="g" cx="2848.8" cy="1269.4" r="6.7"/>
<circle class="g" cx="2859.9" cy="1277.8" r="10.4"/>
<circle class="b" cx="2429.1" cy="1140.2" r="8.9"/>
<circle class="b" cx="2558.4" cy="902.2" r="8.3"/>
<circle class="b" cx="2573.2" cy="898.4" r="7.4"/>
<circle class="b" cx="2626.6" cy="955.6" r="8.9"/>
<circle class="b" cx="2185.4" cy="1225.8" r="6.7"/>
<circle class="b" cx="2878.7" cy="1116.0" r="5.9"/>
<circle class="b" cx="2695.5" cy="1247.5" r="5.9"/>
<circle class="b" cx="1072.9" cy="1445.9" r="7.2"/>
<circle class="b" cx="711.6" cy="1566.0" r="17.2"/>
<circle class="b" cx="1024.5" cy="1568.2" r="16.0"/>
<circle class="b" cx="1892.2" cy="1635.1" r="8.3"/>
<circle class="b" cx="2373.7" cy="1595.3" r="7.1"/>
<circle class="b" cx="1380.2" cy="1396.4" r="19.3"/>
<circle class="b" cx="1408.3" cy="1493.3" r="6.5"/>
<circle class="b" cx="1357.6" cy="1523.6" r="8.0"/>
<circle class="b" cx="1540.9" cy="1225.6" r="12.5"/>
<circle class="b" cx="1599.9" cy="1247.3" r="7.7"/>
<circle class="b" cx="1485.7" cy="1347.8" r="7.1"/>
<circle class="b" cx="1546.2" cy="1396.7" r="12.5"/>
<circle class="b" cx="1557.2" cy="1390.5" r="7.1"/>
<circle class="b" cx="1585.3" cy="1391.6" r="6.8"/>
<circle class="b" cx="1610.2" cy="1360.2" r="13.3"/>
<circle class="b" cx="1653.2" cy="1308.3" r="19.6"/>
<circle class="b" cx="1677.0" cy="1289.4" r="7.1"/>
<circle class="b" cx="1722.3" cy="1228.9" r="11.3"/>
<circle class="b" cx="1675.2" cy="1375.9" r="9.2"/>
<circle class="b" cx="1601.4" cy="1497.5" r="11.0"/>
<circle class="b" cx="1657.1" cy="1494.5" r="7.7"/>
<circle class="b" cx="1678.7" cy="982.5" r="13.6"/>
<circle class="b" cx="1403.9" cy="1174.3" r="8.6"/>
<circle class="b" cx="1773.0" cy="1025.5" r="8.0"/>
<circle class="b" cx="1966.6" cy="939.2" r="6.5"/>
<circle class="b" cx="1978.5" cy="1107.6" r="9.2"/>
<circle class="b" cx="2031.2" cy="1041.5" r="22.5"/>
<circle class="b" cx="2108.9" cy="1163.9" r="27.0"/>
<circle class="b" cx="2127.3" cy="1178.8" r="7.4"/>
<circle class="b" cx="2226.9" cy="958.5" r="7.1"/>
<circle class="b" cx="2162.3" cy="1038.8" r="12.7"/>
<circle class="b" cx="2200.2" cy="1034.1" r="7.1"/>
<circle class="b" cx="2266.7" cy="1038.5" r="8.6"/>
<circle class="b" cx="2177.1" cy="1079.4" r="7.1"/>
<circle class="b" cx="2233.1" cy="1099.6" r="19.3"/>
<circle class="b" cx="2183.0" cy="1138.7" r="9.5"/>
<circle class="b" cx="2267.5" cy="1130.7" r="8.3"/>
<circle class="b" cx="2285.9" cy="1110.6" r="9.5"/>
<circle class="b" cx="2308.5" cy="1158.6" r="8.3"/>
<circle class="b" cx="2387.6" cy="1106.1" r="8.3"/>
<circle class="b" cx="2407.8" cy="990.5" r="23.1"/>
<circle class="b" cx="2457.3" cy="997.9" r="19.3"/>
<circle class="b" cx="2403.0" cy="1029.0" r="8.9"/>
<circle class="b" cx="2436.5" cy="1132.8" r="24.6"/>
<circle class="b" cx="2228.2" cy="693.4" r="7.2"/>
<circle class="b" cx="2450.8" cy="655.3" r="8.0"/>
<circle class="b" cx="2405.8" cy="745.6" r="8.0"/>
<circle class="b" cx="2824.6" cy="790.8" r="12.2"/>
<circle class="b" cx="2596.0" cy="815.7" r="7.1"/>
<circle class="b" cx="2663.6" cy="848.3" r="7.1"/>
<circle class="b" cx="2566.1" cy="909.9" r="25.8"/>
<circle class="b" cx="3022.1" cy="900.2" r="7.7"/>
<circle class="b" cx="2921.6" cy="936.6" r="12.5"/>
<circle class="b" cx="2975.2" cy="943.2" r="6.8"/>
<circle class="b" cx="2620.7" cy="940.8" r="25.5"/>
<circle class="b" cx="2575.3" cy="948.2" r="4.4"/>
<circle class="b" cx="2804.5" cy="939.9" r="7.4"/>
<circle class="b" cx="3322.9" cy="1134.7" r="6.8"/>
<circle class="b" cx="2572.6" cy="1303.9" r="13.6"/>
<circle class="b" cx="2816.0" cy="1327.7" r="6.5"/>
<circle class="b" cx="2717.9" cy="1352.6" r="10.7"/>
<circle class="b" cx="1958.2" cy="1261.8" r="11.9"/>
<circle class="b" cx="1925.8" cy="1347.3" r="11.1"/>
<circle class="b" cx="2057.0" cy="1216.9" r="21.5"/>
<circle class="b" cx="2093.4" cy="1222.8" r="9.6"/>
<circle class="b" cx="2014.0" cy="1326.6" r="14.1"/>
<circle class="b" cx="2063.0" cy="1353.3" r="7.4"/>
<circle class="b" cx="2118.0" cy="1185.7" r="8.9"/>
<circle class="b" cx="2185.4" cy="1227.0" r="12.6"/>
<circle class="b" cx="2217.7" cy="1242.5" r="6.7"/>
<circle class="b" cx="2278.8" cy="1322.9" r="8.9"/>
<circle class="b" cx="2278.1" cy="1368.1" r="5.2"/>
<circle class="b" cx="2412.2" cy="1259.1" r="8.6"/>
<circle class="b" cx="2463.4" cy="1193.2" r="5.9"/>
<circle class="b" cx="1922.6" cy="1432.5" r="7.4"/>
<circle class="b" cx="1987.4" cy="1535.8" r="6.7"/>
<circle class="b" cx="2027.7" cy="1553.7" r="8.6"/>
<circle class="b" cx="2208.1" cy="1414.7" r="8.9"/>
<circle class="b" cx="2187.6" cy="1495.9" r="12.6"/>
<circle class="b" cx="2294.4" cy="1389.5" r="4.4"/>
<circle class="b" cx="2449.3" cy="1499.6" r="6.7"/>
<circle class="b" cx="2538.4" cy="1020.7" r="6.7"/>
<circle class="b" cx="2576.9" cy="1002.6" r="8.2"/>
<circle class="b" cx="2628.8" cy="994.4" r="8.2"/>
<circle class="b" cx="2620.7" cy="1022.3" r="8.2"/>
<circle class="b" cx="2514.2" cy="1087.1" r="7.1"/>
<circle class="b" cx="2585.1" cy="1104.9" r="5.9"/>
<circle class="b" cx="2602.1" cy="1122.7" r="8.2"/>
<circle class="b" cx="2526.5" cy="1185.7" r="11.9"/>
<circle class="b" cx="2666.6" cy="1009.3" r="18.5"/>
<circle class="b" cx="2621.0" cy="1080.4" r="6.2"/>
<circle class="b" cx="2674.8" cy="1160.5" r="17.0"/>
<circle class="b" cx="2780.0" cy="1029.3" r="8.9"/>
<circle class="b" cx="2864.2" cy="1015.5" r="7.1"/>
<circle class="b" cx="3059.6" cy="1006.3" r="6.7"/>
<circle class="b" cx="2879.0" cy="1042.2" r="13.3"/>
<circle class="b" cx="3005.5" cy="1140.5" r="7.1"/>
<circle class="b" cx="2875.8" cy="1124.2" r="21.5"/>
<circle class="b" cx="2634.0" cy="1244.9" r="10.4"/>
<circle class="b" cx="2648.1" cy="1275.6" r="11.1"/>
<circle class="b" cx="2695.8" cy="1238.6" r="15.9"/>
<circle class="b" cx="2854.3" cy="1240.8" r="11.9"/>
<circle class="b" cx="2979.5" cy="1237.1" r="12.2"/>
<circle class="b" cx="3049.2" cy="1255.6" r="6.2"/>
<circle class="l" cx="2644.7" cy="864.6" r="6.5"/>
<circle class="l" cx="2067.4" cy="1299.1" r="9.6"/>
<circle class="l" cx="1880.7" cy="1883.9" r="6.9"/>
<circle class="l" cx="1044.7" cy="1728.7" r="13.3"/>
<circle class="l" cx="1767.1" cy="1722.8" r="11.9"/>
<circle class="l" cx="1726.2" cy="1670.6" r="11.9"/>
<circle class="l" cx="1835.6" cy="1590.6" r="8.0"/>
<circle class="l" cx="2040.2" cy="1712.4" r="7.4"/>
<circle class="l" cx="2128.2" cy="1627.1" r="6.8"/>
<circle class="l" cx="2126.7" cy="1594.2" r="10.7"/>
<circle class="l" cx="1177.4" cy="1334.7" r="8.6"/>
<circle class="l" cx="1523.4" cy="1280.8" r="7.1"/>
<circle class="l" cx="1462.9" cy="1337.4" r="13.9"/>
<circle class="l" cx="1505.0" cy="1464.9" r="33.5"/>
<circle class="l" cx="1667.8" cy="1347.2" r="6.5"/>
<circle class="l" cx="1738.3" cy="1313.1" r="8.0"/>
<circle class="l" cx="1630.7" cy="1511.4" r="12.5"/>
<circle class="l" cx="1703.9" cy="1553.5" r="20.5"/>
<circle class="l" cx="1642.0" cy="1176.4" r="7.1"/>
<circle class="l" cx="1841.2" cy="1107.9" r="11.3"/>
<circle class="l" cx="1833.8" cy="1146.8" r="9.8"/>
<circle class="l" cx="1872.9" cy="1168.4" r="16.9"/>
<circle class="l" cx="1980.5" cy="1058.1" r="6.8"/>
<circle class="l" cx="1985.9" cy="1098.1" r="6.5"/>
<circle class="l" cx="2019.4" cy="1130.1" r="6.2"/>
<circle class="l" cx="2055.9" cy="858.3" r="7.1"/>
<circle class="l" cx="2132.0" cy="852.6" r="7.1"/>
<circle class="l" cx="2035.4" cy="1017.5" r="6.5"/>
<circle class="l" cx="2095.6" cy="1033.2" r="9.5"/>
<circle class="l" cx="2147.8" cy="1099.0" r="7.7"/>
<circle class="l" cx="2112.8" cy="1163.9" r="11.3"/>
<circle class="l" cx="2206.8" cy="923.8" r="8.0"/>
<circle class="l" cx="2221.0" cy="1107.6" r="6.8"/>
<circle class="l" cx="2207.7" cy="1152.1" r="12.2"/>
<circle class="l" cx="2226.0" cy="1174.3" r="6.8"/>
<circle class="l" cx="2363.3" cy="955.8" r="10.4"/>
<circle class="l" cx="2287.7" cy="1064.0" r="12.5"/>
<circle class="l" cx="2283.8" cy="1072.0" r="7.4"/>
<circle class="l" cx="2286.8" cy="1169.3" r="11.9"/>
<circle class="l" cx="2397.1" cy="891.2" r="8.6"/>
<circle class="l" cx="2445.4" cy="944.5" r="18.4"/>
<circle class="l" cx="2445.4" cy="946.9" r="9.5"/>
<circle class="l" cx="2448.4" cy="966.8" r="14.8"/>
<circle class="l" cx="2381.7" cy="981.6" r="8.9"/>
<circle class="l" cx="2369.8" cy="987.5" r="9.8"/>
<circle class="l" cx="2421.7" cy="1005.9" r="6.8"/>
<circle class="l" cx="2432.1" cy="1008.9" r="6.8"/>
<circle class="l" cx="2454.3" cy="1018.7" r="10.4"/>
<circle class="l" cx="2426.8" cy="1086.0" r="6.2"/>
<circle class="l" cx="2444.5" cy="1078.9" r="6.5"/>
<circle class="l" cx="2461.7" cy="1085.4" r="7.4"/>
<circle class="l" cx="2463.2" cy="1115.0" r="14.8"/>
<circle class="l" cx="2414.3" cy="1159.5" r="5.9"/>
<circle class="l" cx="2451.4" cy="1149.1" r="8.3"/>
<circle class="l" cx="2461.7" cy="1146.2" r="7.4"/>
<circle class="l" cx="2628.4" cy="305.7" r="7.6"/>
<circle class="l" cx="2019.3" cy="365.6" r="7.6"/>
<circle class="l" cx="2754.7" cy="628.9" r="6.5"/>
<circle class="l" cx="2626.3" cy="799.7" r="7.7"/>
<circle class="l" cx="2900.8" cy="831.4" r="5.9"/>
<circle class="l" cx="2972.3" cy="832.0" r="6.8"/>
<circle class="l" cx="2919.2" cy="862.8" r="9.5"/>
<circle class="l" cx="2998.1" cy="868.7" r="8.6"/>
<circle class="l" cx="2647.0" cy="868.7" r="13.9"/>
<circle class="l" cx="2535.0" cy="902.8" r="7.7"/>
<circle class="l" cx="2969.6" cy="925.4" r="7.4"/>
<circle class="l" cx="3046.1" cy="917.1" r="8.0"/>
<circle class="l" cx="2567.9" cy="929.5" r="6.8"/>
<circle class="l" cx="2548.6" cy="936.9" r="9.5"/>
<circle class="l" cx="2645.9" cy="955.6" r="8.9"/>
<circle class="l" cx="2722.9" cy="975.5" r="8.3"/>
<circle class="l" cx="2693.3" cy="985.3" r="12.5"/>
<circle class="l" cx="2878.6" cy="964.5" r="11.3"/>
<circle class="l" cx="2881.6" cy="979.3" r="11.3"/>
<circle class="l" cx="2894.9" cy="982.3" r="8.9"/>
<circle class="l" cx="2970.5" cy="972.5" r="7.1"/>
<circle class="l" cx="3390.8" cy="629.2" r="30.2"/>
<circle class="l" cx="3173.2" cy="829.0" r="6.5"/>
<circle class="l" cx="3254.1" cy="896.6" r="6.5"/>
<circle class="l" cx="3465.2" cy="912.9" r="6.8"/>
<circle class="l" cx="3374.5" cy="1064.1" r="6.2"/>
<circle class="l" cx="3197.8" cy="1142.7" r="7.4"/>
<circle class="l" cx="3344.6" cy="1004.8" r="5.9"/>
<circle class="l" cx="3223.6" cy="1022.6" r="7.7"/>
<circle class="l" cx="3180.9" cy="1038.9" r="6.5"/>
<circle class="l" cx="3218.0" cy="1478.6" r="7.4"/>
<circle class="l" cx="2502.1" cy="1298.9" r="8.3"/>
<circle class="l" cx="2658.0" cy="1306.9" r="13.0"/>
<circle class="l" cx="2845.4" cy="1290.6" r="6.5"/>
<circle class="l" cx="3117.9" cy="1313.7" r="13.3"/>
<circle class="l" cx="2774.2" cy="1321.1" r="9.8"/>
<circle class="l" cx="2700.1" cy="1351.4" r="18.1"/>
<circle class="l" cx="2734.8" cy="1336.8" r="7.4"/>
<circle class="l" cx="2714.3" cy="1387.5" r="8.0"/>
<circle class="l" cx="2629.5" cy="1405.3" r="6.5"/>
<circle class="l" cx="3058.0" cy="1474.1" r="6.5"/>
<circle class="l" cx="2570.5" cy="1524.5" r="7.1"/>
<circle class="l" cx="1844.3" cy="1235.0" r="9.6"/>
<circle class="l" cx="1816.6" cy="1256.6" r="19.3"/>
<circle class="l" cx="1783.5" cy="1319.9" r="17.8"/>
<circle class="l" cx="1924.4" cy="1213.2" r="27.4"/>
<circle class="l" cx="1903.6" cy="1319.2" r="6.7"/>
<circle class="l" cx="1921.7" cy="1322.6" r="7.9"/>
<circle class="l" cx="1935.5" cy="1371.8" r="9.6"/>
<circle class="l" cx="2015.5" cy="1209.5" r="10.4"/>
<circle class="l" cx="2084.5" cy="1202.8" r="17.5"/>
<circle class="l" cx="2018.5" cy="1255.7" r="7.7"/>
<circle class="l" cx="2057.0" cy="1291.0" r="20.0"/>
<circle class="l" cx="2043.7" cy="1312.5" r="14.1"/>
<circle class="l" cx="2036.3" cy="1358.4" r="13.3"/>
<circle class="l" cx="2166.1" cy="1187.2" r="7.4"/>
<circle class="l" cx="2136.9" cy="1231.3" r="14.1"/>
<circle class="l" cx="2160.2" cy="1245.0" r="10.4"/>
<circle class="l" cx="2191.3" cy="1258.8" r="8.2"/>
<circle class="l" cx="2117.2" cy="1288.0" r="5.2"/>
<circle class="l" cx="2230.3" cy="1202.8" r="6.2"/>
<circle class="l" cx="2242.2" cy="1285.8" r="8.9"/>
<circle class="l" cx="2281.8" cy="1258.7" r="18.5"/>
<circle class="l" cx="2288.4" cy="1271.7" r="8.9"/>
<circle class="l" cx="2264.7" cy="1294.0" r="14.1"/>
<circle class="l" cx="2231.7" cy="1303.9" r="6.7"/>
<circle class="l" cx="2211.4" cy="1327.8" r="5.9"/>
<circle class="l" cx="2221.7" cy="1325.1" r="6.2"/>
<circle class="l" cx="2256.6" cy="1348.1" r="5.9"/>
<circle class="l" cx="2279.5" cy="1365.9" r="5.2"/>
<circle class="l" cx="2287.7" cy="1201.3" r="11.1"/>
<circle class="l" cx="2358.1" cy="1232.4" r="11.9"/>
<circle class="l" cx="2352.2" cy="1228.0" r="5.9"/>
<circle class="l" cx="2429.0" cy="1207.2" r="15.6"/>
<circle class="l" cx="2406.3" cy="1292.5" r="14.1"/>
<circle class="l" cx="2387.8" cy="1302.1" r="10.4"/>
<circle class="l" cx="1785.8" cy="1433.2" r="13.0"/>
<circle class="l" cx="1952.1" cy="1485.5" r="6.7"/>
<circle class="l" cx="2004.1" cy="1503.2" r="7.9"/>
<circle class="l" cx="2028.0" cy="1442.4" r="7.1"/>
<circle class="l" cx="2052.6" cy="1482.9" r="5.9"/>
<circle class="l" cx="2157.0" cy="1400.3" r="11.1"/>
<circle class="l" cx="2233.6" cy="1431.0" r="16.3"/>
<circle class="l" cx="2235.4" cy="1427.3" r="9.6"/>
<circle class="l" cx="2247.2" cy="1457.4" r="7.7"/>
<circle class="l" cx="2374.0" cy="1425.8" r="7.7"/>
<circle class="l" cx="2460.4" cy="1437.7" r="14.8"/>
<circle class="l" cx="2461.9" cy="1448.0" r="7.4"/>
<circle class="l" cx="2347.0" cy="1518.5" r="8.6"/>
<circle class="l" cx="2486.9" cy="1038.6" r="8.2"/>
<circle class="l" cx="2560.6" cy="1015.2" r="15.6"/>
<circle class="l" cx="2605.8" cy="1001.9" r="17.8"/>
<circle class="l" cx="2465.0" cy="1052.3" r="4.4"/>
<circle class="l" cx="2476.1" cy="1111.6" r="17.0"/>
<circle class="l" cx="2503.5" cy="1135.3" r="8.2"/>
<circle class="l" cx="2584.3" cy="1097.9" r="10.1"/>
<circle class="l" cx="2585.1" cy="1151.3" r="7.9"/>
<circle class="l" cx="2487.2" cy="1185.7" r="20.0"/>
<circle class="l" cx="2714.3" cy="1073.0" r="12.6"/>
<circle class="l" cx="2719.2" cy="1061.2" r="8.2"/>
<circle class="l" cx="2690.3" cy="1108.6" r="21.5"/>
<circle class="l" cx="2742.2" cy="1081.9" r="11.1"/>
<circle class="l" cx="2798.5" cy="1112.3" r="14.8"/>
<circle class="l" cx="2786.7" cy="1114.5" r="8.2"/>
<circle class="l" cx="2674.8" cy="1156.0" r="8.2"/>
<circle class="l" cx="2669.9" cy="1184.9" r="11.1"/>
<circle class="l" cx="2843.2" cy="1058.2" r="8.9"/>
<circle class="l" cx="3052.2" cy="1055.2" r="8.9"/>
<circle class="l" cx="3048.9" cy="1062.6" r="8.6"/>
<circle class="l" cx="3018.8" cy="1072.7" r="7.4"/>
<circle class="l" cx="3038.5" cy="1086.4" r="8.6"/>
<circle class="l" cx="2894.6" cy="1115.3" r="7.4"/>
<circle class="l" cx="2883.2" cy="1130.1" r="10.1"/>
<circle class="l" cx="2920.3" cy="1181.2" r="5.2"/>
<circle class="l" cx="2999.6" cy="1164.9" r="9.6"/>
<circle class="l" cx="3104.8" cy="1143.4" r="7.4"/>
<circle class="l" cx="2523.9" cy="1209.6" r="7.4"/>
<circle class="l" cx="2488.0" cy="1218.2" r="5.9"/>
<circle class="l" cx="2606.6" cy="1212.3" r="9.6"/>
<circle class="l" cx="2617.7" cy="1203.7" r="8.9"/>
<circle class="l" cx="2662.5" cy="1214.1" r="17.5"/>
<circle class="l" cx="2677.7" cy="1270.4" r="8.9"/>
<circle class="l" cx="2706.6" cy="1270.4" r="8.2"/>
<circle class="l" cx="3052.5" cy="1266.7" r="8.9"/>
<circle class="l" cx="3001.5" cy="1200.8" r="8.2"/>
<circle class="c" cx="2070.4" cy="1097.2" r="5.9"/>
<circle class="c" cx="3149.9" cy="980.8" r="7.4"/>
<circle class="c" cx="3396.8" cy="810.0" r="7.4"/>
<circle class="c" cx="3402.1" cy="801.4" r="5.9"/>
<circle class="c" cx="3234.9" cy="866.7" r="8.3"/>
<circle class="c" cx="3171.7" cy="879.4" r="12.2"/>
<circle class="c" cx="3387.6" cy="980.8" r="12.5"/>
<circle class="c" cx="3556.9" cy="1017.0" r="52.8"/>
<circle class="c" cx="3454.3" cy="1061.2" r="8.0"/>
<circle class="c" cx="3378.7" cy="1172.3" r="6.8"/>
<circle class="c" cx="3240.2" cy="1099.7" r="8.3"/>
<circle class="c" cx="3282.3" cy="1004.8" r="11.3"/>
<circle class="c" cx="3003.7" cy="1298.9" r="7.4"/>
<circle class="c" cx="2546.5" cy="1373.0" r="8.9"/>
<circle class="c" cx="2533.8" cy="1380.4" r="7.4"/>
<circle class="c" cx="2516.0" cy="1416.0" r="7.4"/>
<circle class="c" cx="2749.0" cy="1413.3" r="5.9"/>
<circle class="c" cx="2450.0" cy="1301.4" r="8.2"/>
<circle class="c" cx="2874.3" cy="1144.2" r="8.9"/>
<circle class="c" cx="2901.0" cy="1150.8" r="9.6"/>
<circle class="c" cx="2994.4" cy="1172.3" r="11.9"/>
<circle class="c" cx="2974.4" cy="1190.1" r="7.4"/>
<circle class="c" cx="3075.9" cy="1148.6" r="11.1"/>
<circle class="c" cx="3081.8" cy="1177.5" r="14.8"/>
<circle class="c" cx="3099.6" cy="1159.7" r="5.9"/>
<circle class="c" cx="3070.0" cy="1169.4" r="6.7"/>
<circle class="c" cx="3090.7" cy="1181.2" r="6.7"/>
<circle class="c" cx="2528.0" cy="1245.7" r="6.2"/>
<circle class="c" cx="2513.2" cy="1257.1" r="6.7"/>
<circle class="c" cx="3093.7" cy="1249.7" r="11.1"/>
<circle class="c" cx="3104.1" cy="1233.4" r="6.7"/>
<circle class="c" cx="3111.9" cy="1249.7" r="7.0"/>
<circle class="c" cx="1714.1" cy="1965.5" r="8.4"/>
<circle class="c" cx="2260.4" cy="1911.0" r="16.0"/>
<circle class="c" cx="1127.0" cy="1626.8" r="6.5"/>
<circle class="c" cx="1404.5" cy="1665.3" r="7.4"/>
<circle class="c" cx="1142.7" cy="1682.5" r="10.1"/>
<circle class="c" cx="1662.4" cy="1616.7" r="6.5"/>
<circle class="c" cx="1851.3" cy="1705.9" r="9.5"/>
<circle class="c" cx="2143.3" cy="1721.3" r="8.0"/>
<circle class="c" cx="2353.2" cy="1671.8" r="11.3"/>
<circle class="c" cx="2116.6" cy="1806.7" r="17.2"/>
<circle class="c" cx="2507.1" cy="1610.5" r="6.5"/>
<circle class="c" cx="1611.7" cy="1243.1" r="7.1"/>
<circle class="c" cx="1498.8" cy="1410.9" r="24.3"/>
<circle class="c" cx="1711.9" cy="1364.4" r="31.4"/>
<circle class="c" cx="1622.4" cy="1464.0" r="8.0"/>
<circle class="c" cx="1714.6" cy="1448.3" r="22.2"/>
<circle class="c" cx="1796.1" cy="1160.4" r="9.5"/>
<circle class="c" cx="2079.3" cy="1083.9" r="21.9"/>
<circle class="c" cx="2177.4" cy="866.6" r="6.8"/>
<circle class="c" cx="2214.2" cy="1023.1" r="10.7"/>
<circle class="c" cx="2235.5" cy="1129.0" r="6.8"/>
<circle class="c" cx="2344.9" cy="1027.6" r="7.7"/>
<circle class="c" cx="2327.4" cy="1160.1" r="8.9"/>
<circle class="c" cx="2334.3" cy="1161.9" r="5.9"/>
<circle class="c" cx="2369.8" cy="1115.6" r="7.7"/>
<circle class="c" cx="2393.5" cy="974.2" r="12.5"/>
<circle class="c" cx="2435.1" cy="1041.5" r="12.7"/>
<circle class="c" cx="2443.9" cy="1044.8" r="6.5"/>
<circle class="c" cx="2605.5" cy="300.4" r="14.1"/>
<circle class="c" cx="2858.9" cy="417.2" r="10.4"/>
<circle class="c" cx="3067.6" cy="489.5" r="7.1"/>
<circle class="c" cx="3221.2" cy="528.1" r="7.7"/>
<circle class="c" cx="3344.5" cy="483.0" r="35.3"/>
<circle class="c" cx="3376.0" cy="488.3" r="23.1"/>
<circle class="c" cx="3406.2" cy="580.3" r="11.3"/>
<circle class="c" cx="2786.1" cy="689.7" r="9.8"/>
<circle class="c" cx="2847.5" cy="676.3" r="14.8"/>
<circle class="c" cx="2874.7" cy="687.3" r="12.5"/>
<circle class="c" cx="2952.1" cy="691.1" r="6.8"/>
<circle class="c" cx="3138.0" cy="726.7" r="8.9"/>
<circle class="c" cx="2799.4" cy="757.6" r="6.2"/>
<circle class="c" cx="2786.4" cy="770.9" r="8.0"/>
<circle class="c" cx="2749.6" cy="782.8" r="13.0"/>
<circle class="c" cx="2807.7" cy="807.4" r="6.8"/>
<circle class="c" cx="3089.7" cy="783.1" r="6.8"/>
<circle class="c" cx="3106.9" cy="781.3" r="6.8"/>
<circle class="c" cx="2568.8" cy="800.2" r="7.7"/>
<circle class="c" cx="3048.5" cy="851.2" r="10.1"/>
<circle class="c" cx="3074.6" cy="872.6" r="13.3"/>
<circle class="c" cx="3090.6" cy="873.5" r="7.1"/>
<circle class="c" cx="2782.2" cy="905.8" r="9.2"/>
<circle class="c" cx="2861.7" cy="909.4" r="11.3"/>
<circle class="c" cx="2977.3" cy="894.2" r="9.8"/>
<circle class="c" cx="2864.1" cy="918.5" r="9.2"/>
<circle class="c" cx="3071.0" cy="912.9" r="8.6"/>
<circle class="c" cx="3085.5" cy="922.4" r="6.8"/>
<circle class="c" cx="2951.2" cy="942.9" r="11.9"/>
<circle class="c" cx="2691.8" cy="958.3" r="9.8"/>
<circle class="c" cx="2638.4" cy="975.8" r="18.4"/>
<circle class="c" cx="2504.4" cy="981.4" r="6.8"/>
<circle class="c" cx="2837.7" cy="948.2" r="9.5"/>
<circle class="c" cx="2848.9" cy="979.9" r="9.2"/>
<circle class="c" cx="3057.1" cy="960.3" r="12.5"/>
<circle class="c" cx="3105.4" cy="980.8" r="8.9"/>
<circle class="c" cx="3270.7" cy="625.9" r="23.7"/>
<circle class="c" cx="3389.3" cy="692.3" r="45.1"/>
<circle class="c" cx="3505.3" cy="678.4" r="24.0"/>
<circle class="c" cx="3207.3" cy="703.0" r="6.2"/>
<circle class="c" cx="3229.5" cy="708.6" r="13.3"/>
<circle class="c" cx="3263.0" cy="733.2" r="26.1"/>
<circle class="c" cx="3341.6" cy="731.5" r="14.5"/>
<circle class="c" cx="3211.5" cy="761.1" r="10.1"/>
<circle class="c" cx="3387.0" cy="783.9" r="32.6"/>
<circle class="c" cx="3371.9" cy="825.4" r="12.5"/>
<circle class="c" cx="3321.4" cy="833.2" r="13.3"/>
<circle class="c" cx="3323.2" cy="829.6" r="10.4"/>
<circle class="c" cx="3388.5" cy="845.6" r="12.7"/>
<circle class="c" cx="3297.1" cy="853.9" r="10.7"/>
<circle class="c" cx="3436.2" cy="880.9" r="16.0"/>
<circle class="c" cx="3486.9" cy="879.4" r="10.1"/>
<circle class="c" cx="3203.2" cy="866.7" r="7.4"/>
<circle class="c" cx="3239.0" cy="872.6" r="19.3"/>
<circle class="c" cx="3241.4" cy="888.0" r="13.3"/>
<circle class="c" cx="3267.8" cy="880.0" r="8.6"/>
<circle class="c" cx="3179.4" cy="894.5" r="32.9"/>
<circle class="c" cx="3251.5" cy="919.4" r="10.7"/>
<circle class="c" cx="3358.8" cy="946.7" r="9.5"/>
<circle class="c" cx="3370.4" cy="963.0" r="8.6"/>
<circle class="c" cx="3396.8" cy="976.4" r="21.9"/>
<circle class="c" cx="3165.2" cy="973.4" r="28.2"/>
<circle class="c" cx="3193.4" cy="988.2" r="10.4"/>
<circle class="c" cx="3560.1" cy="1013.7" r="48.9"/>
<circle class="c" cx="3526.6" cy="1022.0" r="28.5"/>
<circle class="c" cx="3447.2" cy="1077.5" r="19.3"/>
<circle class="c" cx="3572.0" cy="1075.1" r="6.8"/>
<circle class="c" cx="3407.7" cy="1106.2" r="18.7"/>
<circle class="c" cx="3386.1" cy="1129.3" r="8.0"/>
<circle class="c" cx="3447.8" cy="1161.1" r="32.3"/>
<circle class="c" cx="3415.7" cy="1163.1" r="15.4"/>
<circle class="c" cx="3468.5" cy="1177.7" r="16.3"/>
<circle class="c" cx="3370.1" cy="1174.4" r="16.3"/>
<circle class="c" cx="3502.3" cy="1208.2" r="22.2"/>
<circle class="c" cx="3508.5" cy="1219.8" r="19.9"/>
<circle class="c" cx="3513.6" cy="1252.4" r="12.5"/>
<circle class="c" cx="3428.8" cy="1245.6" r="33.5"/>
<circle class="c" cx="3440.0" cy="1220.4" r="10.7"/>
<circle class="c" cx="3391.4" cy="1279.1" r="17.5"/>
<circle class="c" cx="3388.5" cy="1273.1" r="14.2"/>
<circle class="c" cx="3355.2" cy="1361.2" r="7.1"/>
<circle class="c" cx="3327.1" cy="1280.6" r="7.1"/>
<circle class="c" cx="3308.7" cy="1245.6" r="8.0"/>
<circle class="c" cx="3332.4" cy="1219.2" r="7.7"/>
<circle class="c" cx="3283.5" cy="1179.5" r="10.7"/>
<circle class="c" cx="3276.1" cy="1215.6" r="8.6"/>
<circle class="c" cx="3258.9" cy="1137.9" r="7.1"/>
<circle class="c" cx="3244.7" cy="1099.7" r="16.9"/>
<circle class="c" cx="3218.3" cy="1111.3" r="6.2"/>
<circle class="c" cx="3170.8" cy="1086.4" r="7.4"/>
<circle class="c" cx="3173.2" cy="1092.3" r="6.5"/>
<circle class="c" cx="3182.7" cy="1154.0" r="9.8"/>
<circle class="c" cx="3233.1" cy="1232.5" r="31.7"/>
<circle class="c" cx="3225.7" cy="1220.1" r="10.4"/>
<circle class="c" cx="3187.1" cy="1262.2" r="22.2"/>
<circle class="c" cx="3154.5" cy="1274.0" r="11.6"/>
<circle class="c" cx="3279.3" cy="1000.4" r="18.4"/>
<circle class="c" cx="3325.9" cy="1013.7" r="20.5"/>
<circle class="c" cx="3330.6" cy="1016.1" r="8.9"/>
<circle class="c" cx="3337.2" cy="1003.3" r="7.4"/>
<circle class="c" cx="3237.5" cy="1045.4" r="7.1"/>
<circle class="c" cx="3403.9" cy="1458.2" r="9.5"/>
<circle class="c" cx="3397.9" cy="1462.6" r="6.5"/>
<circle class="c" cx="2582.1" cy="1298.0" r="7.1"/>
<circle class="c" cx="2572.3" cy="1318.2" r="8.3"/>
<circle class="c" cx="2491.7" cy="1328.5" r="7.7"/>
<circle class="c" cx="2635.2" cy="1329.1" r="6.2"/>
<circle class="c" cx="2728.0" cy="1293.0" r="9.5"/>
<circle class="c" cx="2870.6" cy="1290.9" r="8.9"/>
<circle class="c" cx="3003.7" cy="1299.5" r="20.2"/>
<circle class="c" cx="3031.3" cy="1297.4" r="22.2"/>
<circle class="c" cx="3048.2" cy="1301.0" r="12.5"/>
<circle class="c" cx="3049.7" cy="1313.1" r="6.8"/>
<circle class="c" cx="2540.9" cy="1367.1" r="21.1"/>
<circle class="c" cx="2624.5" cy="1376.6" r="12.2"/>
<circle class="c" cx="2735.1" cy="1362.0" r="7.7"/>
<circle class="c" cx="2738.1" cy="1379.2" r="7.1"/>
<circle class="c" cx="2774.8" cy="1368.6" r="21.1"/>
<circle class="c" cx="2832.9" cy="1391.1" r="13.3"/>
<circle class="c" cx="3013.5" cy="1335.1" r="7.4"/>
<circle class="c" cx="2894.9" cy="1382.8" r="10.7"/>
<circle class="c" cx="2970.2" cy="1378.1" r="8.3"/>
<circle class="c" cx="2519.8" cy="1412.7" r="12.5"/>
<circle class="c" cx="2696.9" cy="1400.9" r="6.5"/>
<circle class="c" cx="2760.0" cy="1417.8" r="19.9"/>
<circle class="c" cx="2484.6" cy="1449.8" r="6.8"/>
<circle class="c" cx="2985.0" cy="1447.7" r="12.2"/>
<circle class="c" cx="2705.7" cy="1475.0" r="9.5"/>
<circle class="c" cx="2660.4" cy="1483.0" r="9.2"/>
<circle class="c" cx="2926.3" cy="1518.6" r="7.4"/>
<circle class="c" cx="2980.9" cy="1515.3" r="8.0"/>
<circle class="c" cx="2831.5" cy="1518.9" r="9.2"/>
<circle class="c" cx="3033.1" cy="1526.0" r="6.8"/>
<circle class="c" cx="2551.0" cy="1507.0" r="8.6"/>
<circle class="c" cx="2679.7" cy="1560.7" r="8.0"/>
<circle class="c" cx="1830.2" cy="1200.6" r="26.7"/>
<circle class="c" cx="1799.4" cy="1295.4" r="9.6"/>
<circle class="c" cx="1819.8" cy="1373.3" r="5.9"/>
<circle class="c" cx="1773.2" cy="1379.2" r="8.2"/>
<circle class="c" cx="1925.1" cy="1219.1" r="9.6"/>
<circle class="c" cx="1928.8" cy="1235.4" r="8.2"/>
<circle class="c" cx="1906.6" cy="1236.1" r="7.4"/>
<circle class="c" cx="1893.7" cy="1242.8" r="13.3"/>
<circle class="c" cx="1934.7" cy="1332.8" r="6.4"/>
<circle class="c" cx="1914.0" cy="1351.8" r="11.1"/>
<circle class="c" cx="1970.3" cy="1372.5" r="7.7"/>
<circle class="c" cx="1918.1" cy="1376.2" r="14.1"/>
<circle class="c" cx="2037.0" cy="1190.9" r="13.3"/>
<circle class="c" cx="2064.4" cy="1222.1" r="17.8"/>
<circle class="c" cx="2030.4" cy="1383.6" r="14.1"/>
<circle class="c" cx="2155.8" cy="1271.0" r="7.4"/>
<circle class="c" cx="2174.3" cy="1294.0" r="10.4"/>
<circle class="c" cx="2128.3" cy="1335.9" r="6.2"/>
<circle class="c" cx="2164.7" cy="1365.1" r="5.6"/>
<circle class="c" cx="2240.3" cy="1256.9" r="16.3"/>
<circle class="c" cx="2264.7" cy="1379.2" r="12.6"/>
<circle class="c" cx="2298.8" cy="1370.3" r="15.6"/>
<circle class="c" cx="2294.4" cy="1196.9" r="11.1"/>
<circle class="c" cx="2302.2" cy="1224.6" r="7.4"/>
<circle class="c" cx="2312.9" cy="1328.1" r="15.6"/>
<circle class="c" cx="2324.0" cy="1339.9" r="8.2"/>
<circle class="c" cx="2370.4" cy="1199.1" r="13.3"/>
<circle class="c" cx="2401.1" cy="1205.0" r="6.7"/>
<circle class="c" cx="2428.8" cy="1228.0" r="11.1"/>
<circle class="c" cx="2441.1" cy="1253.9" r="8.2"/>
<circle class="c" cx="2394.4" cy="1266.1" r="11.1"/>
<circle class="c" cx="2460.4" cy="1275.4" r="7.1"/>
<circle class="c" cx="2452.3" cy="1300.3" r="14.1"/>
<circle class="c" cx="2435.2" cy="1361.1" r="6.2"/>
<circle class="c" cx="1958.5" cy="1396.9" r="17.0"/>
<circle class="c" cx="1937.0" cy="1434.4" r="6.2"/>
<circle class="c" cx="2030.4" cy="1392.4" r="14.1"/>
<circle class="c" cx="2095.6" cy="1398.4" r="10.4"/>
<circle class="c" cx="2083.0" cy="1412.5" r="9.6"/>
<circle class="c" cx="1857.9" cy="1432.8" r="10.4"/>
<circle class="c" cx="2044.6" cy="1448.0" r="9.6"/>
<circle class="c" cx="2202.9" cy="1438.1" r="23.0"/>
<circle class="c" cx="2261.8" cy="1388.0" r="8.9"/>
<circle class="c" cx="2331.9" cy="1393.9" r="7.4"/>
<circle class="c" cx="2344.0" cy="1413.2" r="9.2"/>
<circle class="c" cx="2340.3" cy="1448.0" r="10.1"/>
<circle class="c" cx="2425.9" cy="1474.3" r="12.6"/>
<circle class="c" cx="2212.8" cy="1567.4" r="29.6"/>
<circle class="c" cx="2530.2" cy="1036.0" r="8.6"/>
<circle class="c" cx="2611.8" cy="998.9" r="12.6"/>
<circle class="c" cx="2466.5" cy="1084.9" r="6.7"/>
<circle class="c" cx="2493.9" cy="1118.2" r="11.1"/>
<circle class="c" cx="2599.6" cy="1133.1" r="7.1"/>
<circle class="c" cx="2617.7" cy="1128.6" r="6.7"/>
<circle class="c" cx="2622.1" cy="1141.5" r="14.1"/>
<circle class="c" cx="2641.4" cy="1161.2" r="12.6"/>
<circle class="c" cx="2634.0" cy="1167.9" r="7.4"/>
<circle class="c" cx="2685.4" cy="1020.4" r="11.6"/>
<circle class="c" cx="2690.3" cy="997.4" r="6.7"/>
<circle class="c" cx="2647.6" cy="1042.2" r="10.1"/>
<circle class="c" cx="2660.7" cy="1106.4" r="16.3"/>
<circle class="c" cx="2704.0" cy="1092.6" r="8.9"/>
<circle class="c" cx="2777.8" cy="1089.3" r="11.1"/>
<circle class="c" cx="2813.4" cy="1086.4" r="6.7"/>
<circle class="c" cx="2781.5" cy="1103.4" r="6.2"/>
<circle class="c" cx="2777.5" cy="1149.1" r="7.9"/>
<circle class="c" cx="2813.4" cy="1169.4" r="4.4"/>
<circle class="c" cx="2717.0" cy="1183.5" r="14.1"/>
<circle class="c" cx="2709.9" cy="1176.8" r="6.7"/>
<circle class="c" cx="2787.0" cy="1008.8" r="12.6"/>
<circle class="c" cx="2760.0" cy="1027.8" r="8.9"/>
<circle class="c" cx="2871.3" cy="996.7" r="5.2"/>
<circle class="c" cx="2831.8" cy="1017.4" r="11.1"/>
<circle class="c" cx="2958.8" cy="1008.5" r="12.6"/>
<circle class="c" cx="2985.9" cy="1018.5" r="14.5"/>
<circle class="c" cx="3051.4" cy="1001.9" r="6.7"/>
<circle class="c" cx="3072.9" cy="1004.1" r="12.6"/>
<circle class="c" cx="3068.5" cy="995.9" r="10.4"/>
<circle class="c" cx="3075.2" cy="1024.1" r="8.6"/>
<circle class="c" cx="3138.9" cy="993.0" r="8.9"/>
<circle class="c" cx="2864.4" cy="1053.0" r="11.1"/>
<circle class="c" cx="2887.5" cy="1067.8" r="7.0"/>
<circle class="c" cx="2819.4" cy="1087.8" r="12.6"/>
<circle class="c" cx="2967.4" cy="1089.6" r="8.9"/>
<circle class="c" cx="3076.6" cy="1066.3" r="11.1"/>
<circle class="c" cx="2910.9" cy="1118.2" r="6.5"/>
<circle class="c" cx="2854.3" cy="1144.2" r="7.4"/>
<circle class="c" cx="2882.5" cy="1164.2" r="27.4"/>
<circle class="c" cx="2820.2" cy="1168.6" r="8.2"/>
<circle class="c" cx="2917.3" cy="1165.7" r="11.1"/>
<circle class="c" cx="2974.4" cy="1184.2" r="30.4"/>
<circle class="c" cx="3082.6" cy="1166.4" r="30.4"/>
<circle class="c" cx="3131.9" cy="1163.1" r="12.3"/>
<circle class="c" cx="3058.1" cy="1184.2" r="6.7"/>
<circle class="c" cx="2469.4" cy="1213.4" r="5.9"/>
<circle class="c" cx="2585.1" cy="1211.1" r="11.1"/>
<circle class="c" cx="2521.9" cy="1250.4" r="25.2"/>
<circle class="c" cx="2483.5" cy="1270.1" r="6.4"/>
<circle class="c" cx="2620.7" cy="1259.0" r="10.1"/>
<circle class="c" cx="2643.9" cy="1261.5" r="9.2"/>
<circle class="c" cx="2657.7" cy="1242.6" r="7.1"/>
<circle class="c" cx="2688.1" cy="1262.3" r="13.3"/>
<circle class="c" cx="2702.9" cy="1260.1" r="8.6"/>
<circle class="c" cx="2705.9" cy="1283.8" r="6.2"/>
<circle class="c" cx="2767.4" cy="1247.5" r="10.8"/>
<circle class="c" cx="2855.0" cy="1202.2" r="14.8"/>
<circle class="c" cx="2865.4" cy="1202.2" r="12.6"/>
<circle class="c" cx="2829.8" cy="1208.9" r="11.1"/>
<circle class="c" cx="2838.0" cy="1231.1" r="21.5"/>
<circle class="c" cx="2988.7" cy="1236.3" r="7.1"/>
<circle class="c" cx="2957.8" cy="1260.8" r="6.4"/>
<circle class="c" cx="2991.4" cy="1263.8" r="8.6"/>
<circle class="c" cx="3028.0" cy="1241.5" r="6.2"/>
<circle class="c" cx="3051.7" cy="1225.7" r="20.5"/>
<circle class="c" cx="3055.9" cy="1203.7" r="13.3"/>
<circle class="c" cx="3099.6" cy="1237.4" r="27.9"/>
<circle class="c" cx="2823.2" cy="1286.0" r="5.9"/>
<circle class="c" cx="2906.9" cy="1277.8" r="10.7"/>
<circle class="c" cx="1557.8" cy="647.5" r="14.8"/>
<circle class="e" cx="2118.4" cy="1119.5" r="7.4"/>
<circle class="e" cx="2132.6" cy="1126.9" r="7.4"/>
<circle class="e" cx="2405.4" cy="1066.1" r="5.9"/>
<circle class="e" cx="2412.8" cy="1076.5" r="5.9"/>
<circle class="e" cx="2674.0" cy="765.9" r="5.3"/>
<circle class="e" cx="2913.6" cy="762.3" r="6.8"/>
<circle class="e" cx="3114.3" cy="952.6" r="6.5"/>
<circle class="e" cx="3125.6" cy="959.2" r="6.8"/>
<circle class="e" cx="2097.1" cy="1322.9" r="8.2"/>
<circle class="e" cx="2100.0" cy="1337.7" r="7.4"/>
<circle class="e" cx="2451.5" cy="1232.4" r="7.4"/>
<circle class="e" cx="1888.8" cy="1480.9" r="10.4"/>
<circle class="e" cx="2471.7" cy="1236.3" r="7.4"/>
<circle class="e" cx="792.8" cy="1584.6" r="11.1"/>
<circle class="e" cx="1411.3" cy="1653.7" r="5.9"/>
<circle class="e" cx="1973.7" cy="1640.1" r="12.5"/>
<circle class="e" cx="1917.1" cy="1708.9" r="6.5"/>
<circle class="e" cx="2322.7" cy="1698.5" r="6.5"/>
<circle class="e" cx="1382.3" cy="1263.0" r="6.5"/>
<circle class="e" cx="1370.4" cy="1330.3" r="10.4"/>
<circle class="e" cx="1325.9" cy="1378.9" r="7.7"/>
<circle class="e" cx="1172.6" cy="1423.1" r="6.5"/>
<circle class="e" cx="1250.6" cy="1434.3" r="7.4"/>
<circle class="e" cx="1140.0" cy="1513.2" r="7.4"/>
<circle class="e" cx="1396.5" cy="1526.0" r="19.6"/>
<circle class="e" cx="1524.9" cy="1247.3" r="6.8"/>
<circle class="e" cx="1630.7" cy="1201.0" r="9.2"/>
<circle class="e" cx="1440.4" cy="1358.7" r="14.2"/>
<circle class="e" cx="1458.4" cy="1456.6" r="10.1"/>
<circle class="e" cx="1691.8" cy="1265.1" r="7.1"/>
<circle class="e" cx="1733.3" cy="1279.6" r="8.9"/>
<circle class="e" cx="1740.4" cy="1323.8" r="7.4"/>
<circle class="e" cx="1698.6" cy="1412.7" r="9.5"/>
<circle class="e" cx="1626.3" cy="1441.8" r="9.5"/>
<circle class="e" cx="1614.1" cy="1124.8" r="11.6"/>
<circle class="e" cx="1639.6" cy="1157.4" r="19.3"/>
<circle class="e" cx="1907.9" cy="814.7" r="9.5"/>
<circle class="e" cx="1835.0" cy="948.4" r="7.7"/>
<circle class="e" cx="1842.1" cy="973.6" r="8.3"/>
<circle class="e" cx="1788.4" cy="1157.7" r="7.7"/>
<circle class="e" cx="1998.9" cy="803.7" r="8.0"/>
<circle class="e" cx="1923.6" cy="991.7" r="6.2"/>
<circle class="e" cx="1950.9" cy="1027.6" r="8.3"/>
<circle class="e" cx="1986.8" cy="1126.0" r="16.0"/>
<circle class="e" cx="1929.5" cy="1181.7" r="16.3"/>
<circle class="e" cx="1938.4" cy="1179.7" r="7.1"/>
<circle class="e" cx="2096.2" cy="862.4" r="11.3"/>
<circle class="e" cx="2037.8" cy="1035.6" r="8.6"/>
<circle class="e" cx="2096.2" cy="1052.5" r="9.2"/>
<circle class="e" cx="2063.6" cy="1122.4" r="6.8"/>
<circle class="e" cx="2122.9" cy="1122.7" r="19.0"/>
<circle class="e" cx="2140.3" cy="1134.3" r="9.5"/>
<circle class="e" cx="2234.9" cy="866.9" r="8.0"/>
<circle class="e" cx="2234.9" cy="962.0" r="8.6"/>
<circle class="e" cx="2161.4" cy="1025.5" r="10.4"/>
<circle class="e" cx="2226.9" cy="1034.1" r="9.2"/>
<circle class="e" cx="2265.5" cy="1028.5" r="6.8"/>
<circle class="e" cx="2260.1" cy="1088.3" r="9.5"/>
<circle class="e" cx="2195.5" cy="1124.5" r="16.3"/>
<circle class="e" cx="2187.5" cy="1134.3" r="5.9"/>
<circle class="e" cx="2256.6" cy="1154.2" r="14.2"/>
<circle class="e" cx="2288.3" cy="798.7" r="7.1"/>
<circle class="e" cx="2304.0" cy="802.5" r="7.1"/>
<circle class="e" cx="2358.0" cy="813.5" r="8.9"/>
<circle class="e" cx="2330.1" cy="936.0" r="9.2"/>
<circle class="e" cx="2313.2" cy="985.5" r="9.2"/>
<circle class="e" cx="2305.8" cy="1027.9" r="10.4"/>
<circle class="e" cx="2321.5" cy="1045.9" r="11.6"/>
<circle class="e" cx="2278.8" cy="1091.9" r="13.3"/>
<circle class="e" cx="2328.3" cy="1093.4" r="12.2"/>
<circle class="e" cx="2419.3" cy="973.3" r="13.9"/>
<circle class="e" cx="2398.0" cy="1075.0" r="17.5"/>
<circle class="e" cx="2418.7" cy="1073.5" r="10.4"/>
<circle class="e" cx="2449.9" cy="1174.3" r="13.3"/>
<circle class="e" cx="2552.5" cy="487.6" r="12.2"/>
<circle class="e" cx="2371.9" cy="568.0" r="16.4"/>
<circle class="e" cx="2556.7" cy="651.1" r="9.1"/>
<circle class="e" cx="3009.5" cy="578.2" r="8.6"/>
<circle class="e" cx="2769.8" cy="669.8" r="15.7"/>
<circle class="e" cx="2699.5" cy="719.3" r="14.8"/>
<circle class="e" cx="2921.3" cy="722.6" r="21.1"/>
<circle class="e" cx="3072.5" cy="639.6" r="12.7"/>
<circle class="e" cx="2671.6" cy="763.8" r="9.2"/>
<circle class="e" cx="2720.0" cy="787.8" r="20.5"/>
<circle class="e" cx="2914.2" cy="765.3" r="14.8"/>
<circle class="e" cx="2984.4" cy="799.1" r="12.5"/>
<circle class="e" cx="3116.4" cy="778.3" r="9.8"/>
<circle class="e" cx="3055.0" cy="851.8" r="6.2"/>
<circle class="e" cx="2537.6" cy="861.3" r="6.5"/>
<circle class="e" cx="2538.5" cy="874.1" r="8.6"/>
<circle class="e" cx="2545.1" cy="883.0" r="7.7"/>
<circle class="e" cx="2598.1" cy="879.4" r="11.0"/>
<circle class="e" cx="2639.6" cy="944.3" r="8.6"/>
<circle class="e" cx="2564.3" cy="955.9" r="12.5"/>
<circle class="e" cx="2762.7" cy="946.7" r="6.5"/>
<circle class="e" cx="3124.1" cy="953.5" r="18.7"/>
<circle class="e" cx="3186.8" cy="658.2" r="8.3"/>
<circle class="e" cx="3267.8" cy="675.7" r="10.7"/>
<circle class="e" cx="3178.2" cy="774.5" r="6.5"/>
<circle class="e" cx="3181.5" cy="829.6" r="8.9"/>
<circle class="e" cx="3234.3" cy="916.8" r="8.0"/>
<circle class="e" cx="3562.2" cy="973.7" r="6.5"/>
<circle class="e" cx="3457.8" cy="1399.2" r="8.0"/>
<circle class="e" cx="2508.0" cy="1295.3" r="5.9"/>
<circle class="e" cx="2482.8" cy="1322.0" r="5.9"/>
<circle class="e" cx="3124.7" cy="1304.8" r="22.8"/>
<circle class="e" cx="2792.3" cy="1324.4" r="9.5"/>
<circle class="e" cx="2477.5" cy="1379.8" r="8.3"/>
<circle class="e" cx="3020.9" cy="1341.0" r="6.8"/>
<circle class="e" cx="2578.6" cy="1425.8" r="7.7"/>
<circle class="e" cx="2653.9" cy="1462.3" r="8.6"/>
<circle class="e" cx="2804.8" cy="1462.9" r="7.7"/>
<circle class="e" cx="2484.0" cy="1527.8" r="14.8"/>
<circle class="e" cx="1828.7" cy="1320.3" r="9.6"/>
<circle class="e" cx="1864.0" cy="1296.9" r="14.5"/>
<circle class="e" cx="1952.1" cy="1276.5" r="6.7"/>
<circle class="e" cx="2051.8" cy="1222.1" r="13.3"/>
<circle class="e" cx="2048.1" cy="1225.8" r="11.1"/>
<circle class="e" cx="2080.3" cy="1220.6" r="6.2"/>
<circle class="e" cx="2097.8" cy="1327.3" r="20.0"/>
<circle class="e" cx="2113.4" cy="1383.6" r="4.4"/>
<circle class="e" cx="2126.1" cy="1260.6" r="6.7"/>
<circle class="e" cx="2118.0" cy="1270.2" r="8.2"/>
<circle class="e" cx="2175.0" cy="1268.0" r="14.1"/>
<circle class="e" cx="2237.3" cy="1185.7" r="4.4"/>
<circle class="e" cx="2208.7" cy="1267.7" r="6.2"/>
<circle class="e" cx="2241.3" cy="1277.7" r="6.7"/>
<circle class="e" cx="2280.6" cy="1248.3" r="8.2"/>
<circle class="e" cx="2292.4" cy="1273.6" r="5.6"/>
<circle class="e" cx="2360.3" cy="1351.0" r="9.6"/>
<circle class="e" cx="2454.5" cy="1237.6" r="14.8"/>
<circle class="e" cx="2460.4" cy="1365.9" r="9.6"/>
<circle class="e" cx="2422.6" cy="1363.6" r="6.7"/>
<circle class="e" cx="1768.0" cy="1402.1" r="5.2"/>
<circle class="e" cx="1885.8" cy="1475.8" r="19.0"/>
<circle class="e" cx="2097.1" cy="1452.8" r="8.6"/>
<circle class="e" cx="2195.3" cy="1408.0" r="6.7"/>
<circle class="e" cx="2152.8" cy="1431.0" r="8.2"/>
<circle class="e" cx="2146.4" cy="1451.0" r="11.9"/>
<circle class="e" cx="2366.6" cy="1393.9" r="10.4"/>
<circle class="e" cx="2345.5" cy="1428.8" r="8.9"/>
<circle class="e" cx="2565.5" cy="1047.1" r="11.9"/>
<circle class="e" cx="2602.6" cy="1005.6" r="6.7"/>
<circle class="e" cx="2531.7" cy="1096.0" r="8.2"/>
<circle class="e" cx="2478.3" cy="1124.9" r="7.1"/>
<circle class="e" cx="2624.4" cy="1189.4" r="5.2"/>
<circle class="e" cx="2698.5" cy="994.4" r="5.9"/>
<circle class="e" cx="2726.6" cy="1113.8" r="5.9"/>
<circle class="e" cx="2761.5" cy="1069.6" r="14.5"/>
<circle class="e" cx="2750.7" cy="1095.3" r="14.8"/>
<circle class="e" cx="2647.8" cy="1129.3" r="8.6"/>
<circle class="e" cx="2684.4" cy="1133.1" r="8.9"/>
<circle class="e" cx="2886.2" cy="993.0" r="14.1"/>
<circle class="e" cx="3011.4" cy="994.4" r="14.1"/>
<circle class="e" cx="2929.1" cy="1063.7" r="8.9"/>
<circle class="e" cx="3024.5" cy="1044.8" r="9.2"/>
<circle class="e" cx="2979.8" cy="1129.3" r="7.7"/>
<circle class="e" cx="2912.8" cy="1173.1" r="9.2"/>
<circle class="e" cx="2903.5" cy="1182.7" r="5.6"/>
<circle class="e" cx="2944.7" cy="1188.6" r="8.6"/>
<circle class="e" cx="2470.9" cy="1237.8" r="14.1"/>
<circle class="e" cx="2589.5" cy="1247.5" r="6.2"/>
</g>
<line x1="356.6" y1="1768.4" x2="3638.5" y2="895.9" stroke="#000" stroke-opacity=".71" stroke-width="8.3" stroke-dasharray="33.7 13.9"/>
<rect x="192.8" y="169.0" width="3609.2" height="2203.6" fill="none" stroke="#5f5f5f" stroke-width="3.4"/>
<g class="tc">
<line x1="271.1" y1="2374.3" x2="271.1" y2="2388.8"/>
<line x1="858.4" y1="2374.3" x2="858.4" y2="2388.8"/>
<line x1="1445.7" y1="2374.3" x2="1445.7" y2="2388.8"/>
<line x1="2033.1" y1="2374.3" x2="2033.1" y2="2388.8"/>
<line x1="2620.4" y1="2374.3" x2="2620.4" y2="2388.8"/>
<line x1="3207.7" y1="2374.3" x2="3207.7" y2="2388.8"/>
<line x1="3795.1" y1="2374.3" x2="3795.1" y2="2388.8"/>
<line x1="176.6" y1="2370.5" x2="191.1" y2="2370.5"/>
<line x1="176.6" y1="1961.2" x2="191.1" y2="1961.2"/>
<line x1="176.6" y1="1552.0" x2="191.1" y2="1552.0"/>
<line x1="176.6" y1="1142.7" x2="191.1" y2="1142.7"/>
<line x1="176.6" y1="733.4" x2="191.1" y2="733.4"/>
<line x1="176.6" y1="324.2" x2="191.1" y2="324.2"/>
</g>
<g class="tk">
<text x="271.6" y="2434.8" text-anchor="middle" textLength="55" lengthAdjust="spacingAndGlyphs">−4</text>
<text x="858.9" y="2434.8" text-anchor="middle" textLength="55" lengthAdjust="spacingAndGlyphs">−3</text>
<text x="1446.2" y="2434.8" text-anchor="middle" textLength="55" lengthAdjust="spacingAndGlyphs">−2</text>
<text x="2033.6" y="2434.8" text-anchor="middle" textLength="55" lengthAdjust="spacingAndGlyphs">−1</text>
<text x="2621.2" y="2434.8" text-anchor="middle" textLength="26.5" lengthAdjust="spacingAndGlyphs">0</text>
<text x="3208.5" y="2434.8" text-anchor="middle" textLength="26.5" lengthAdjust="spacingAndGlyphs">1</text>
<text x="3795.9" y="2434.8" text-anchor="middle" textLength="26.5" lengthAdjust="spacingAndGlyphs">2</text>
<text x="160.5" y="2385.7" text-anchor="end" textLength="55" lengthAdjust="spacingAndGlyphs">−3</text>
<text x="160.5" y="1976.4" text-anchor="end" textLength="55" lengthAdjust="spacingAndGlyphs">−2</text>
<text x="160.5" y="1567.2" text-anchor="end" textLength="55" lengthAdjust="spacingAndGlyphs">−1</text>
<text x="160.5" y="1157.9" text-anchor="end" textLength="26.5" lengthAdjust="spacingAndGlyphs">0</text>
<text x="160.5" y="748.6" text-anchor="end" textLength="26.5" lengthAdjust="spacingAndGlyphs">1</text>
<text x="160.5" y="339.4" text-anchor="end" textLength="26.5" lengthAdjust="spacingAndGlyphs">2</text>
</g>
<text x="1997.4" y="2506.7" text-anchor="middle" font-size="51.5" fill="#000" textLength="559" lengthAdjust="spacingAndGlyphs">ln(Input Token Index)</text>
<text transform="translate(76.5 1270.8) rotate(-90)" text-anchor="middle" font-size="51.5" fill="#000" textLength="609" lengthAdjust="spacingAndGlyphs">ln(Output Token Index)</text>
<text x="1997.4" y="78.9" text-anchor="middle" font-size="62.5" font-weight="bold" fill="#b85f45" stroke="#b85f45" stroke-width="1.4" textLength="1747" lengthAdjust="spacingAndGlyphs">Output Token Index vs Input Token Index across tasks</text>
<rect x="213.2" y="189.3" width="1213.2" height="453.2" rx="8.3" fill="#fff" fill-opacity=".8" stroke="#d2d2d2" stroke-width="4.2"/>
<g class="p">
<circle class="o" cx="269.6" cy="228.8" r="21.8"/>
<circle class="g" cx="269.6" cy="288.9" r="21.8"/>
<circle class="b" cx="269.6" cy="351.9" r="21.8"/>
<circle class="l" cx="269.6" cy="415.9" r="21.8"/>
<circle class="c" cx="269.6" cy="479.1" r="21.8"/>
<circle class="e" cx="269.6" cy="542.2" r="21.8"/>
</g>
<g class="lg">
<text x="342" y="239.3" textLength="873.0" lengthAdjust="spacingAndGlyphs">Office and Administrative Support (N=225)</text>
<text x="342" y="299.4" textLength="383.0" lengthAdjust="spacingAndGlyphs">All Other (N=1083)</text>
<text x="342" y="362.4" textLength="1071.0" lengthAdjust="spacingAndGlyphs">Arts, Design, Entertainment, Sports &amp; Media (N=113)</text>
<text x="342" y="426.4" textLength="782.0" lengthAdjust="spacingAndGlyphs">Life, Physical &amp; Social Science (N=188)</text>
<text x="342" y="489.8" textLength="756.4" lengthAdjust="spacingAndGlyphs">Computer and Mathematical (N=298)</text>
<text x="342" y="552.6" textLength="886.8" lengthAdjust="spacingAndGlyphs">Educational Instruction and Library (N=147)</text>
<text x="342" y="615.9" textLength="623.0" lengthAdjust="spacingAndGlyphs">Best fit (R² = 0.294, β = 0.382)</text>
</g>
<line x1="229.2" y1="603.4" x2="309.8" y2="603.4" stroke="#000" stroke-opacity=".71" stroke-width="8.3" stroke-dasharray="33.1 14.4"/>
</svg></body></html>
